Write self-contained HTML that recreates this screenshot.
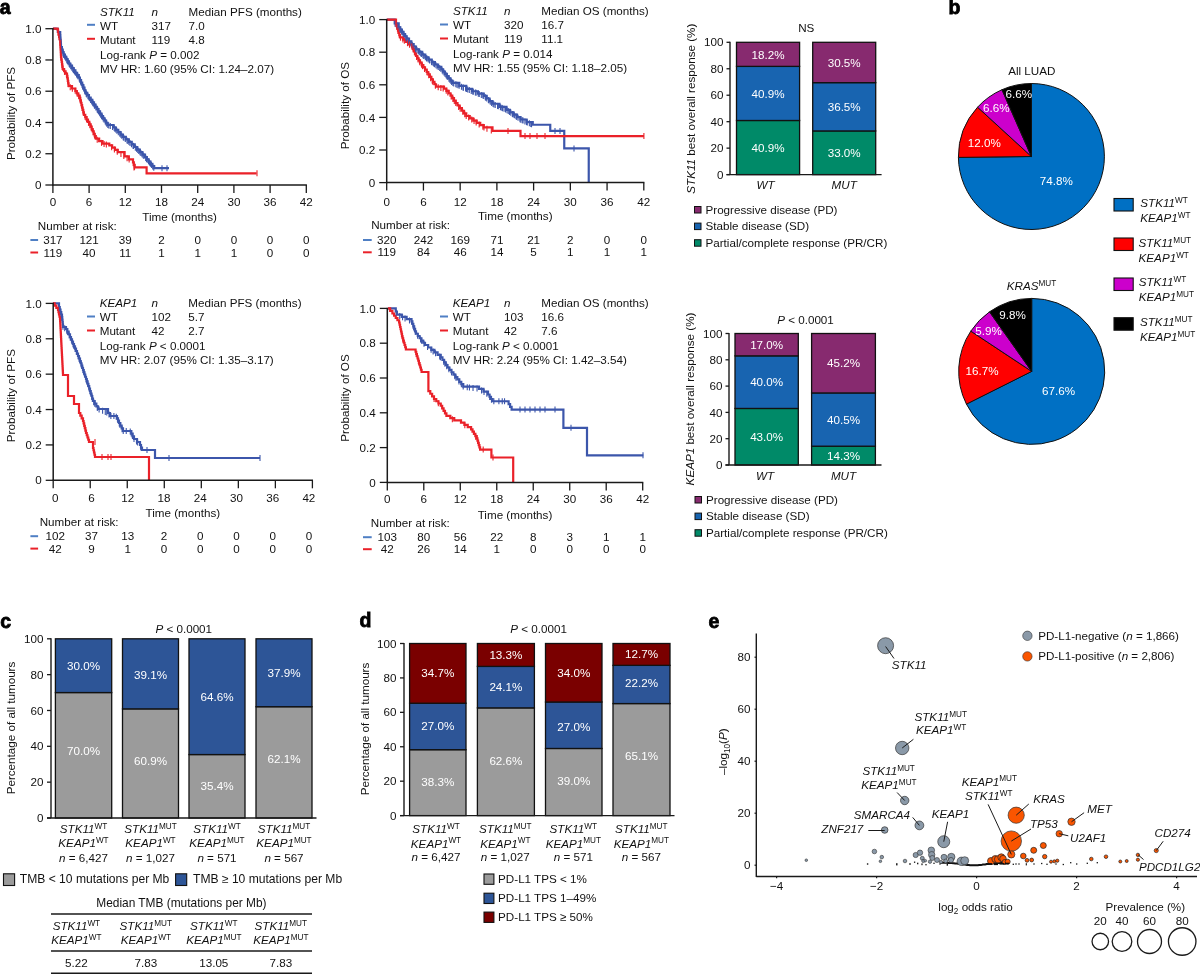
<!DOCTYPE html>
<html><head><meta charset="utf-8"><style>
html,body{margin:0;padding:0;background:#fff;}
svg{display:block;will-change:transform;font-family:"Liberation Sans",sans-serif;font-size:11.65px;fill:#111;}
</style></head><body>
<svg width="1200" height="974" viewBox="0 0 1200 974">
<rect width="1200" height="974" fill="#fff"/>
<text x="-0.30" y="13.50" font-weight="bold" font-size="19.5" fill="#000" stroke="#000" stroke-width="0.8">a</text>
<text x="948.50" y="13.60" font-weight="bold" font-size="19.5" fill="#000" stroke="#000" stroke-width="0.8">b</text>
<text x="0.20" y="627.90" font-weight="bold" font-size="19.5" fill="#000" stroke="#000" stroke-width="0.8">c</text>
<text x="359.50" y="627.30" font-weight="bold" font-size="19.5" fill="#000" stroke="#000" stroke-width="0.8">d</text>
<text x="708.50" y="627.60" font-weight="bold" font-size="19.5" fill="#000" stroke="#000" stroke-width="0.8">e</text>
<polyline points="52.90,28.60 55.50,28.60 55.50,28.80 57.85,28.80 57.85,32.00 60.20,32.00 60.20,35.20 60.36,35.20 60.36,37.56 60.52,37.56 60.52,39.92 60.68,39.92 60.68,42.28 60.84,42.28 60.84,44.64 61.00,44.64 61.00,47.00 61.87,47.00 61.87,49.57 62.73,49.57 62.73,52.13 63.60,52.13 63.60,54.70 64.94,54.70 64.94,56.90 66.28,56.90 66.28,59.10 67.62,59.10 67.62,61.30 68.96,61.30 68.96,63.50 70.30,63.50 70.30,65.70 72.00,65.70 72.00,68.06 73.70,68.06 73.70,70.42 75.40,70.42 75.40,72.78 77.10,72.78 77.10,75.14 78.80,75.14 78.80,77.50 79.93,77.50 79.93,80.05 81.07,80.05 81.07,82.60 82.20,82.60 82.20,85.15 83.33,85.15 83.33,87.70 84.47,87.70 84.47,90.25 85.60,90.25 85.60,92.80 87.28,92.80 87.28,95.18 88.96,95.18 88.96,97.56 90.64,97.56 90.64,99.94 92.32,99.94 92.32,102.32 94.00,102.32 94.00,104.70 95.51,104.70 95.51,106.96 97.02,106.96 97.02,109.21 98.53,109.21 98.53,111.47 100.04,111.47 100.04,113.72 101.56,113.72 101.56,115.98 103.07,115.98 103.07,118.23 104.58,118.23 104.58,120.49 106.09,120.49 106.09,122.74 107.60,122.74 107.60,125.00 113.60,125.00 113.60,127.50 115.92,127.50 115.92,129.85 118.25,129.85 118.25,132.20 120.58,132.20 120.58,134.55 122.90,134.55 122.90,136.90 125.85,136.90 125.85,139.43 128.80,139.43 128.80,141.95 131.75,141.95 131.75,144.47 134.70,144.47 134.70,147.00 137.27,147.00 137.27,149.55 139.85,149.55 139.85,152.10 142.43,152.10 142.43,154.65 145.00,154.65 145.00,157.20 146.84,157.20 146.84,159.40 148.68,159.40 148.68,161.60 150.52,161.60 150.52,163.80 152.36,163.80 152.36,166.00 154.20,166.00 154.20,168.20 169.00,168.20" fill="none" stroke="#3c56ab" stroke-width="2.2" stroke-linejoin="miter"/>
<polyline points="52.90,28.60 57.50,28.60 57.50,29.50 58.04,29.50 58.04,32.00 58.58,32.00 58.58,34.50 59.12,34.50 59.12,37.00 59.66,37.00 59.66,39.50 60.20,39.50 60.20,42.00 60.33,42.00 60.33,44.53 60.47,44.53 60.47,47.07 60.60,47.07 60.60,49.60 60.73,49.60 60.73,52.13 60.87,52.13 60.87,54.67 61.00,54.67 61.00,57.20 61.34,57.20 61.34,59.56 61.68,59.56 61.68,61.92 62.02,61.92 62.02,64.28 62.36,64.28 62.36,66.64 62.70,66.64 62.70,69.00 64.13,69.00 64.13,71.27 65.57,71.27 65.57,73.53 67.00,73.53 67.00,75.80 67.40,75.80 67.40,78.35 67.80,78.35 67.80,80.90 68.20,80.90 68.20,83.45 68.60,83.45 68.60,86.00 72.00,86.00 72.00,88.50 75.40,88.50 75.40,91.00 76.83,91.00 76.83,93.30 78.27,93.30 78.27,95.60 79.70,95.60 79.70,97.90 80.30,97.90 80.30,100.31 80.90,100.31 80.90,102.73 81.50,102.73 81.50,105.14 82.10,105.14 82.10,107.56 82.70,107.56 82.70,109.97 83.30,109.97 83.30,112.39 83.90,112.39 83.90,114.80 85.26,114.80 85.26,117.18 86.62,117.18 86.62,119.56 87.98,119.56 87.98,121.94 89.34,121.94 89.34,124.32 90.70,124.32 90.70,126.70 91.72,126.70 91.72,129.08 92.74,129.08 92.74,131.46 93.76,131.46 93.76,133.84 94.78,133.84 94.78,136.22 95.80,136.22 95.80,138.60 99.15,138.60 99.15,141.10 102.50,141.10 102.50,143.60 109.30,143.60 109.30,145.30 112.13,145.30 112.13,147.57 114.97,147.57 114.97,149.83 117.80,149.83 117.80,152.10 124.60,152.10 124.60,156.40 128.80,156.40 128.80,159.35 133.00,159.35 133.00,162.30 133.85,162.30 133.85,164.85 134.70,164.85 134.70,167.40 146.60,167.40 146.60,173.30 256.60,173.30" fill="none" stroke="#ea2129" stroke-width="2.2" stroke-linejoin="miter"/>
<line x1="59.18" y1="30.81" x2="59.18" y2="36.81" stroke="#3c56ab" stroke-width="1.1"/>
<line x1="60.21" y1="32.35" x2="60.21" y2="38.35" stroke="#3c56ab" stroke-width="1.1"/>
<line x1="60.33" y1="34.14" x2="60.33" y2="40.14" stroke="#3c56ab" stroke-width="1.1"/>
<line x1="60.38" y1="34.86" x2="60.38" y2="40.86" stroke="#3c56ab" stroke-width="1.1"/>
<line x1="60.48" y1="36.38" x2="60.48" y2="42.38" stroke="#3c56ab" stroke-width="1.1"/>
<line x1="60.66" y1="39.04" x2="60.66" y2="45.04" stroke="#3c56ab" stroke-width="1.1"/>
<line x1="60.74" y1="40.13" x2="60.74" y2="46.13" stroke="#3c56ab" stroke-width="1.1"/>
<line x1="60.88" y1="42.17" x2="60.88" y2="48.17" stroke="#3c56ab" stroke-width="1.1"/>
<line x1="60.92" y1="42.80" x2="60.92" y2="48.80" stroke="#3c56ab" stroke-width="1.1"/>
<line x1="61.32" y1="44.93" x2="61.32" y2="50.93" stroke="#3c56ab" stroke-width="1.1"/>
<line x1="61.95" y1="46.80" x2="61.95" y2="52.80" stroke="#3c56ab" stroke-width="1.1"/>
<line x1="62.26" y1="47.73" x2="62.26" y2="53.73" stroke="#3c56ab" stroke-width="1.1"/>
<line x1="63.07" y1="50.14" x2="63.07" y2="56.14" stroke="#3c56ab" stroke-width="1.1"/>
<line x1="63.57" y1="51.62" x2="63.57" y2="57.62" stroke="#3c56ab" stroke-width="1.1"/>
<line x1="63.81" y1="52.04" x2="63.81" y2="58.04" stroke="#3c56ab" stroke-width="1.1"/>
<line x1="64.65" y1="53.42" x2="64.65" y2="59.42" stroke="#3c56ab" stroke-width="1.1"/>
<line x1="65.83" y1="55.37" x2="65.83" y2="61.37" stroke="#3c56ab" stroke-width="1.1"/>
<line x1="66.94" y1="57.19" x2="66.94" y2="63.19" stroke="#3c56ab" stroke-width="1.1"/>
<line x1="67.41" y1="57.95" x2="67.41" y2="63.95" stroke="#3c56ab" stroke-width="1.1"/>
<line x1="68.14" y1="59.15" x2="68.14" y2="65.15" stroke="#3c56ab" stroke-width="1.1"/>
<line x1="69.12" y1="60.76" x2="69.12" y2="66.76" stroke="#3c56ab" stroke-width="1.1"/>
<line x1="69.69" y1="61.70" x2="69.69" y2="67.70" stroke="#3c56ab" stroke-width="1.1"/>
<line x1="70.71" y1="63.27" x2="70.71" y2="69.27" stroke="#3c56ab" stroke-width="1.1"/>
<line x1="71.82" y1="64.80" x2="71.82" y2="70.80" stroke="#3c56ab" stroke-width="1.1"/>
<line x1="72.80" y1="66.18" x2="72.80" y2="72.18" stroke="#3c56ab" stroke-width="1.1"/>
<line x1="73.55" y1="67.21" x2="73.55" y2="73.21" stroke="#3c56ab" stroke-width="1.1"/>
<line x1="74.49" y1="68.52" x2="74.49" y2="74.52" stroke="#3c56ab" stroke-width="1.1"/>
<line x1="75.43" y1="69.82" x2="75.43" y2="75.82" stroke="#3c56ab" stroke-width="1.1"/>
<line x1="76.55" y1="71.38" x2="76.55" y2="77.38" stroke="#3c56ab" stroke-width="1.1"/>
<line x1="77.37" y1="72.52" x2="77.37" y2="78.52" stroke="#3c56ab" stroke-width="1.1"/>
<line x1="78.11" y1="73.55" x2="78.11" y2="79.55" stroke="#3c56ab" stroke-width="1.1"/>
<line x1="79.41" y1="75.87" x2="79.41" y2="81.87" stroke="#3c56ab" stroke-width="1.1"/>
<line x1="79.92" y1="77.01" x2="79.92" y2="83.01" stroke="#3c56ab" stroke-width="1.1"/>
<line x1="80.62" y1="78.59" x2="80.62" y2="84.59" stroke="#3c56ab" stroke-width="1.1"/>
<line x1="81.03" y1="79.53" x2="81.03" y2="85.53" stroke="#3c56ab" stroke-width="1.1"/>
<line x1="82.11" y1="81.96" x2="82.11" y2="87.96" stroke="#3c56ab" stroke-width="1.1"/>
<line x1="82.70" y1="83.28" x2="82.70" y2="89.28" stroke="#3c56ab" stroke-width="1.1"/>
<line x1="82.97" y1="83.88" x2="82.97" y2="89.88" stroke="#3c56ab" stroke-width="1.1"/>
<line x1="83.74" y1="85.61" x2="83.74" y2="91.61" stroke="#3c56ab" stroke-width="1.1"/>
<line x1="84.60" y1="87.54" x2="84.60" y2="93.54" stroke="#3c56ab" stroke-width="1.1"/>
<line x1="85.25" y1="89.01" x2="85.25" y2="95.01" stroke="#3c56ab" stroke-width="1.1"/>
<line x1="86.20" y1="90.65" x2="86.20" y2="96.65" stroke="#3c56ab" stroke-width="1.1"/>
<line x1="86.75" y1="91.43" x2="86.75" y2="97.43" stroke="#3c56ab" stroke-width="1.1"/>
<line x1="87.98" y1="93.18" x2="87.98" y2="99.18" stroke="#3c56ab" stroke-width="1.1"/>
<line x1="88.80" y1="94.33" x2="88.80" y2="100.33" stroke="#3c56ab" stroke-width="1.1"/>
<line x1="89.46" y1="95.26" x2="89.46" y2="101.26" stroke="#3c56ab" stroke-width="1.1"/>
<line x1="90.60" y1="96.88" x2="90.60" y2="102.88" stroke="#3c56ab" stroke-width="1.1"/>
<line x1="91.75" y1="98.51" x2="91.75" y2="104.51" stroke="#3c56ab" stroke-width="1.1"/>
<line x1="92.66" y1="99.80" x2="92.66" y2="105.80" stroke="#3c56ab" stroke-width="1.1"/>
<line x1="93.33" y1="100.76" x2="93.33" y2="106.76" stroke="#3c56ab" stroke-width="1.1"/>
<line x1="94.32" y1="102.17" x2="94.32" y2="108.17" stroke="#3c56ab" stroke-width="1.1"/>
<line x1="94.82" y1="102.92" x2="94.82" y2="108.92" stroke="#3c56ab" stroke-width="1.1"/>
<line x1="95.87" y1="104.49" x2="95.87" y2="110.49" stroke="#3c56ab" stroke-width="1.1"/>
<line x1="97.17" y1="106.42" x2="97.17" y2="112.42" stroke="#3c56ab" stroke-width="1.1"/>
<line x1="97.79" y1="107.36" x2="97.79" y2="113.36" stroke="#3c56ab" stroke-width="1.1"/>
<line x1="98.51" y1="108.44" x2="98.51" y2="114.44" stroke="#3c56ab" stroke-width="1.1"/>
<line x1="99.68" y1="110.18" x2="99.68" y2="116.18" stroke="#3c56ab" stroke-width="1.1"/>
<line x1="100.69" y1="111.69" x2="100.69" y2="117.69" stroke="#3c56ab" stroke-width="1.1"/>
<line x1="101.57" y1="113.01" x2="101.57" y2="119.01" stroke="#3c56ab" stroke-width="1.1"/>
<line x1="102.26" y1="114.03" x2="102.26" y2="120.03" stroke="#3c56ab" stroke-width="1.1"/>
<line x1="103.20" y1="115.44" x2="103.20" y2="121.44" stroke="#3c56ab" stroke-width="1.1"/>
<line x1="104.15" y1="116.85" x2="104.15" y2="122.85" stroke="#3c56ab" stroke-width="1.1"/>
<line x1="105.25" y1="118.49" x2="105.25" y2="124.49" stroke="#3c56ab" stroke-width="1.1"/>
<line x1="105.96" y1="119.55" x2="105.96" y2="125.55" stroke="#3c56ab" stroke-width="1.1"/>
<line x1="106.77" y1="120.76" x2="106.77" y2="126.76" stroke="#3c56ab" stroke-width="1.1"/>
<line x1="107.83" y1="122.09" x2="107.83" y2="128.09" stroke="#3c56ab" stroke-width="1.1"/>
<line x1="108.77" y1="122.49" x2="108.77" y2="128.49" stroke="#3c56ab" stroke-width="1.1"/>
<line x1="110.28" y1="123.12" x2="110.28" y2="129.12" stroke="#3c56ab" stroke-width="1.1"/>
<line x1="112.56" y1="124.07" x2="112.56" y2="130.07" stroke="#3c56ab" stroke-width="1.1"/>
<line x1="114.20" y1="125.10" x2="114.20" y2="131.10" stroke="#3c56ab" stroke-width="1.1"/>
<line x1="114.98" y1="125.89" x2="114.98" y2="131.89" stroke="#3c56ab" stroke-width="1.1"/>
<line x1="115.93" y1="126.86" x2="115.93" y2="132.86" stroke="#3c56ab" stroke-width="1.1"/>
<line x1="116.87" y1="127.80" x2="116.87" y2="133.80" stroke="#3c56ab" stroke-width="1.1"/>
<line x1="118.31" y1="129.26" x2="118.31" y2="135.26" stroke="#3c56ab" stroke-width="1.1"/>
<line x1="119.88" y1="130.85" x2="119.88" y2="136.85" stroke="#3c56ab" stroke-width="1.1"/>
<line x1="120.82" y1="131.80" x2="120.82" y2="137.80" stroke="#3c56ab" stroke-width="1.1"/>
<line x1="121.75" y1="132.74" x2="121.75" y2="138.74" stroke="#3c56ab" stroke-width="1.1"/>
<line x1="123.20" y1="134.16" x2="123.20" y2="140.16" stroke="#3c56ab" stroke-width="1.1"/>
<line x1="123.81" y1="134.68" x2="123.81" y2="140.68" stroke="#3c56ab" stroke-width="1.1"/>
<line x1="125.31" y1="135.97" x2="125.31" y2="141.97" stroke="#3c56ab" stroke-width="1.1"/>
<line x1="126.97" y1="137.39" x2="126.97" y2="143.39" stroke="#3c56ab" stroke-width="1.1"/>
<line x1="127.83" y1="138.12" x2="127.83" y2="144.12" stroke="#3c56ab" stroke-width="1.1"/>
<line x1="128.94" y1="139.07" x2="128.94" y2="145.07" stroke="#3c56ab" stroke-width="1.1"/>
<line x1="129.99" y1="139.96" x2="129.99" y2="145.96" stroke="#3c56ab" stroke-width="1.1"/>
<line x1="131.49" y1="141.25" x2="131.49" y2="147.25" stroke="#3c56ab" stroke-width="1.1"/>
<line x1="133.12" y1="142.64" x2="133.12" y2="148.64" stroke="#3c56ab" stroke-width="1.1"/>
<line x1="133.41" y1="142.90" x2="133.41" y2="148.90" stroke="#3c56ab" stroke-width="1.1"/>
<line x1="135.36" y1="144.65" x2="135.36" y2="150.65" stroke="#3c56ab" stroke-width="1.1"/>
<line x1="136.54" y1="145.82" x2="136.54" y2="151.82" stroke="#3c56ab" stroke-width="1.1"/>
<line x1="137.75" y1="147.02" x2="137.75" y2="153.02" stroke="#3c56ab" stroke-width="1.1"/>
<line x1="138.76" y1="148.02" x2="138.76" y2="154.02" stroke="#3c56ab" stroke-width="1.1"/>
<line x1="139.97" y1="149.22" x2="139.97" y2="155.22" stroke="#3c56ab" stroke-width="1.1"/>
<line x1="140.85" y1="150.09" x2="140.85" y2="156.09" stroke="#3c56ab" stroke-width="1.1"/>
<line x1="142.04" y1="151.27" x2="142.04" y2="157.27" stroke="#3c56ab" stroke-width="1.1"/>
<line x1="143.06" y1="152.28" x2="143.06" y2="158.28" stroke="#3c56ab" stroke-width="1.1"/>
<line x1="143.87" y1="153.08" x2="143.87" y2="159.08" stroke="#3c56ab" stroke-width="1.1"/>
<line x1="145.69" y1="155.03" x2="145.69" y2="161.03" stroke="#3c56ab" stroke-width="1.1"/>
<line x1="146.48" y1="155.97" x2="146.48" y2="161.97" stroke="#3c56ab" stroke-width="1.1"/>
<line x1="147.21" y1="156.84" x2="147.21" y2="162.84" stroke="#3c56ab" stroke-width="1.1"/>
<line x1="148.50" y1="158.39" x2="148.50" y2="164.39" stroke="#3c56ab" stroke-width="1.1"/>
<line x1="149.52" y1="159.61" x2="149.52" y2="165.61" stroke="#3c56ab" stroke-width="1.1"/>
<line x1="150.45" y1="160.72" x2="150.45" y2="166.72" stroke="#3c56ab" stroke-width="1.1"/>
<line x1="151.48" y1="161.95" x2="151.48" y2="167.95" stroke="#3c56ab" stroke-width="1.1"/>
<line x1="152.68" y1="163.38" x2="152.68" y2="169.38" stroke="#3c56ab" stroke-width="1.1"/>
<line x1="153.78" y1="164.70" x2="153.78" y2="170.70" stroke="#3c56ab" stroke-width="1.1"/>
<line x1="162.00" y1="165.20" x2="162.00" y2="171.20" stroke="#3c56ab" stroke-width="1.1"/>
<line x1="167.00" y1="165.20" x2="167.00" y2="171.20" stroke="#3c56ab" stroke-width="1.1"/>
<line x1="58.26" y1="30.01" x2="58.26" y2="36.01" stroke="#ea2129" stroke-width="1.1"/>
<line x1="59.09" y1="33.86" x2="59.09" y2="39.86" stroke="#ea2129" stroke-width="1.1"/>
<line x1="60.25" y1="39.92" x2="60.25" y2="45.92" stroke="#ea2129" stroke-width="1.1"/>
<line x1="60.43" y1="43.46" x2="60.43" y2="49.46" stroke="#ea2129" stroke-width="1.1"/>
<line x1="60.63" y1="47.11" x2="60.63" y2="53.11" stroke="#ea2129" stroke-width="1.1"/>
<line x1="60.77" y1="49.85" x2="60.77" y2="55.85" stroke="#ea2129" stroke-width="1.1"/>
<line x1="61.06" y1="54.61" x2="61.06" y2="60.61" stroke="#ea2129" stroke-width="1.1"/>
<line x1="61.61" y1="58.43" x2="61.61" y2="64.43" stroke="#ea2129" stroke-width="1.1"/>
<line x1="62.15" y1="62.17" x2="62.15" y2="68.17" stroke="#ea2129" stroke-width="1.1"/>
<line x1="62.51" y1="64.70" x2="62.51" y2="70.70" stroke="#ea2129" stroke-width="1.1"/>
<line x1="64.51" y1="68.86" x2="64.51" y2="74.86" stroke="#ea2129" stroke-width="1.1"/>
<line x1="66.51" y1="72.02" x2="66.51" y2="78.02" stroke="#ea2129" stroke-width="1.1"/>
<line x1="67.61" y1="76.70" x2="67.61" y2="82.70" stroke="#ea2129" stroke-width="1.1"/>
<line x1="68.34" y1="81.34" x2="68.34" y2="87.34" stroke="#ea2129" stroke-width="1.1"/>
<line x1="70.24" y1="84.21" x2="70.24" y2="90.21" stroke="#ea2129" stroke-width="1.1"/>
<line x1="72.34" y1="85.75" x2="72.34" y2="91.75" stroke="#ea2129" stroke-width="1.1"/>
<line x1="75.20" y1="87.86" x2="75.20" y2="93.86" stroke="#ea2129" stroke-width="1.1"/>
<line x1="77.02" y1="90.60" x2="77.02" y2="96.60" stroke="#ea2129" stroke-width="1.1"/>
<line x1="78.68" y1="93.27" x2="78.68" y2="99.27" stroke="#ea2129" stroke-width="1.1"/>
<line x1="80.16" y1="96.75" x2="80.16" y2="102.75" stroke="#ea2129" stroke-width="1.1"/>
<line x1="81.42" y1="101.81" x2="81.42" y2="107.81" stroke="#ea2129" stroke-width="1.1"/>
<line x1="82.24" y1="105.11" x2="82.24" y2="111.11" stroke="#ea2129" stroke-width="1.1"/>
<line x1="83.21" y1="109.04" x2="83.21" y2="115.04" stroke="#ea2129" stroke-width="1.1"/>
<line x1="85.19" y1="114.05" x2="85.19" y2="120.05" stroke="#ea2129" stroke-width="1.1"/>
<line x1="86.54" y1="116.42" x2="86.54" y2="122.42" stroke="#ea2129" stroke-width="1.1"/>
<line x1="88.51" y1="119.86" x2="88.51" y2="125.86" stroke="#ea2129" stroke-width="1.1"/>
<line x1="89.92" y1="122.34" x2="89.92" y2="128.34" stroke="#ea2129" stroke-width="1.1"/>
<line x1="91.34" y1="125.20" x2="91.34" y2="131.20" stroke="#ea2129" stroke-width="1.1"/>
<line x1="93.23" y1="129.60" x2="93.23" y2="135.60" stroke="#ea2129" stroke-width="1.1"/>
<line x1="94.52" y1="132.61" x2="94.52" y2="138.61" stroke="#ea2129" stroke-width="1.1"/>
<line x1="97.21" y1="136.65" x2="97.21" y2="142.65" stroke="#ea2129" stroke-width="1.1"/>
<line x1="101.51" y1="139.86" x2="101.51" y2="145.86" stroke="#ea2129" stroke-width="1.1"/>
<line x1="104.07" y1="140.99" x2="104.07" y2="146.99" stroke="#ea2129" stroke-width="1.1"/>
<line x1="106.34" y1="141.56" x2="106.34" y2="147.56" stroke="#ea2129" stroke-width="1.1"/>
<line x1="111.64" y1="144.17" x2="111.64" y2="150.17" stroke="#ea2129" stroke-width="1.1"/>
<line x1="114.42" y1="146.40" x2="114.42" y2="152.40" stroke="#ea2129" stroke-width="1.1"/>
<line x1="117.28" y1="148.69" x2="117.28" y2="154.69" stroke="#ea2129" stroke-width="1.1"/>
<line x1="120.95" y1="151.09" x2="120.95" y2="157.09" stroke="#ea2129" stroke-width="1.1"/>
<line x1="123.84" y1="152.92" x2="123.84" y2="158.92" stroke="#ea2129" stroke-width="1.1"/>
<line x1="127.08" y1="155.14" x2="127.08" y2="161.14" stroke="#ea2129" stroke-width="1.1"/>
<line x1="129.14" y1="156.59" x2="129.14" y2="162.59" stroke="#ea2129" stroke-width="1.1"/>
<line x1="133.34" y1="160.32" x2="133.34" y2="166.32" stroke="#ea2129" stroke-width="1.1"/>
<line x1="134.54" y1="163.92" x2="134.54" y2="169.92" stroke="#ea2129" stroke-width="1.1"/>
<line x1="257.00" y1="170.30" x2="257.00" y2="176.30" stroke="#ea2129" stroke-width="1.1"/>
<line x1="134.00" y1="164.40" x2="134.00" y2="170.40" stroke="#ea2129" stroke-width="1.1"/>
<line x1="52.90" y1="28.10" x2="52.90" y2="185.60" stroke="#1a1a1a" stroke-width="1.5"/>
<line x1="52.30" y1="185.00" x2="306.90" y2="185.00" stroke="#1a1a1a" stroke-width="1.5"/>
<line x1="45.40" y1="185.00" x2="52.90" y2="185.00" stroke="#1a1a1a" stroke-width="1.3"/>
<text x="41.40" y="189.10" text-anchor="end">0</text>
<line x1="45.40" y1="153.74" x2="52.90" y2="153.74" stroke="#1a1a1a" stroke-width="1.3"/>
<text x="41.40" y="157.84" text-anchor="end">0.2</text>
<line x1="45.40" y1="122.48" x2="52.90" y2="122.48" stroke="#1a1a1a" stroke-width="1.3"/>
<text x="41.40" y="126.58" text-anchor="end">0.4</text>
<line x1="45.40" y1="91.22" x2="52.90" y2="91.22" stroke="#1a1a1a" stroke-width="1.3"/>
<text x="41.40" y="95.32" text-anchor="end">0.6</text>
<line x1="45.40" y1="59.96" x2="52.90" y2="59.96" stroke="#1a1a1a" stroke-width="1.3"/>
<text x="41.40" y="64.06" text-anchor="end">0.8</text>
<line x1="45.40" y1="28.70" x2="52.90" y2="28.70" stroke="#1a1a1a" stroke-width="1.3"/>
<text x="41.40" y="32.80" text-anchor="end">1.0</text>
<line x1="52.90" y1="185.00" x2="52.90" y2="193.00" stroke="#1a1a1a" stroke-width="1.3"/>
<text x="52.90" y="205.50" text-anchor="middle">0</text>
<line x1="89.10" y1="185.00" x2="89.10" y2="193.00" stroke="#1a1a1a" stroke-width="1.3"/>
<text x="89.10" y="205.50" text-anchor="middle">6</text>
<line x1="125.30" y1="185.00" x2="125.30" y2="193.00" stroke="#1a1a1a" stroke-width="1.3"/>
<text x="125.30" y="205.50" text-anchor="middle">12</text>
<line x1="161.50" y1="185.00" x2="161.50" y2="193.00" stroke="#1a1a1a" stroke-width="1.3"/>
<text x="161.50" y="205.50" text-anchor="middle">18</text>
<line x1="197.70" y1="185.00" x2="197.70" y2="193.00" stroke="#1a1a1a" stroke-width="1.3"/>
<text x="197.70" y="205.50" text-anchor="middle">24</text>
<line x1="233.90" y1="185.00" x2="233.90" y2="193.00" stroke="#1a1a1a" stroke-width="1.3"/>
<text x="233.90" y="205.50" text-anchor="middle">30</text>
<line x1="270.10" y1="185.00" x2="270.10" y2="193.00" stroke="#1a1a1a" stroke-width="1.3"/>
<text x="270.10" y="205.50" text-anchor="middle">36</text>
<line x1="306.30" y1="185.00" x2="306.30" y2="193.00" stroke="#1a1a1a" stroke-width="1.3"/>
<text x="306.30" y="205.50" text-anchor="middle">42</text>
<text x="179.60" y="220.50" text-anchor="middle">Time (months)</text>
<text x="37.80" y="229.70">Number at risk:</text>
<text x="52.90" y="244.00" text-anchor="middle">317</text>
<text x="52.90" y="256.50" text-anchor="middle">119</text>
<text x="89.10" y="244.00" text-anchor="middle">121</text>
<text x="89.10" y="256.50" text-anchor="middle">40</text>
<text x="125.30" y="244.00" text-anchor="middle">39</text>
<text x="125.30" y="256.50" text-anchor="middle">11</text>
<text x="161.50" y="244.00" text-anchor="middle">2</text>
<text x="161.50" y="256.50" text-anchor="middle">1</text>
<text x="197.70" y="244.00" text-anchor="middle">0</text>
<text x="197.70" y="256.50" text-anchor="middle">1</text>
<text x="233.90" y="244.00" text-anchor="middle">0</text>
<text x="233.90" y="256.50" text-anchor="middle">1</text>
<text x="270.10" y="244.00" text-anchor="middle">0</text>
<text x="270.10" y="256.50" text-anchor="middle">0</text>
<text x="306.30" y="244.00" text-anchor="middle">0</text>
<text x="306.30" y="256.50" text-anchor="middle">0</text>
<line x1="30.40" y1="240.00" x2="38.10" y2="240.00" stroke="#4f7fc4" stroke-width="2"/>
<line x1="30.40" y1="252.50" x2="38.10" y2="252.50" stroke="#ea2129" stroke-width="2"/>
<text transform="translate(14.50,113.50) rotate(-90)" text-anchor="middle">Probability of PFS</text>
<text x="100.00" y="15.60" font-style="italic">STK11</text>
<text x="151.60" y="15.60" font-style="italic">n</text>
<text x="188.60" y="15.60">Median PFS (months)</text>
<text x="100.00" y="29.60">WT</text>
<text x="151.60" y="29.60">317</text>
<text x="188.60" y="29.60">7.0</text>
<text x="100.00" y="43.60">Mutant</text>
<text x="151.60" y="43.60">119</text>
<text x="188.60" y="43.60">4.8</text>
<line x1="87.00" y1="24.80" x2="95.00" y2="24.80" stroke="#4f7fc4" stroke-width="2"/>
<line x1="87.00" y1="38.80" x2="95.00" y2="38.80" stroke="#ea2129" stroke-width="2"/>
<text x="100.00" y="58.60">Log-rank <tspan font-style="italic">P</tspan> = 0.002</text>
<text x="100.00" y="72.60">MV HR: 1.60 (95% CI: 1.24–2.07)</text>
<polyline points="386.70,19.60 394.70,19.60 394.70,23.30 398.70,23.30 398.70,27.30 400.30,27.30 400.30,29.58 401.90,29.58 401.90,31.86 403.50,31.86 403.50,34.14 405.10,34.14 405.10,36.42 406.70,36.42 406.70,38.70 409.02,38.70 409.02,41.35 411.35,41.35 411.35,44.00 413.68,44.00 413.68,46.65 416.00,46.65 416.00,49.30 419.10,49.30 419.10,51.97 422.20,51.97 422.20,54.63 425.30,54.63 425.30,57.30 428.50,57.30 428.50,59.70 431.70,59.70 431.70,62.10 434.90,62.10 434.90,64.50 438.10,64.50 438.10,66.90 441.30,66.90 441.30,69.30 443.13,69.30 443.13,71.55 444.97,71.55 444.97,73.80 446.80,73.80 446.80,76.05 448.63,76.05 448.63,78.30 450.47,78.30 450.47,80.55 452.30,80.55 452.30,82.80 459.30,82.80 459.30,85.85 466.30,85.85 466.30,88.90 472.12,88.90 472.12,91.23 477.93,91.23 477.93,93.57 483.75,93.57 483.75,95.90 486.67,95.90 486.67,98.52 489.58,98.52 489.58,101.13 492.50,101.13 492.50,103.75 499.50,103.75 499.50,106.83 506.50,106.83 506.50,109.90 510.00,109.90 510.00,112.30 513.50,112.30 513.50,114.70 517.00,114.70 517.00,117.10 520.50,117.10 520.50,119.50 526.62,119.50 526.62,122.12 532.75,122.12 532.75,124.75 550.25,124.75 550.25,130.90 564.25,130.90 564.25,148.40 588.75,148.40 588.75,182.30" fill="none" stroke="#3c56ab" stroke-width="2.2" stroke-linejoin="miter"/>
<polyline points="386.70,19.60 396.00,19.60 396.00,24.00 396.67,24.00 396.67,26.22 397.33,26.22 397.33,28.43 398.00,28.43 398.00,30.65 398.67,30.65 398.67,32.87 399.33,32.87 399.33,35.08 400.00,35.08 400.00,37.30 403.00,37.30 403.00,39.65 406.00,39.65 406.00,42.00 409.00,42.00 409.00,44.35 412.00,44.35 412.00,46.70 413.00,46.70 413.00,49.03 414.00,49.03 414.00,51.35 415.00,51.35 415.00,53.67 416.00,53.67 416.00,56.00 417.33,56.00 417.33,58.23 418.67,58.23 418.67,60.47 420.00,60.47 420.00,62.70 421.68,62.70 421.68,65.03 423.35,65.03 423.35,67.35 425.02,67.35 425.02,69.67 426.70,69.67 426.70,72.00 428.25,72.00 428.25,74.45 429.80,74.45 429.80,76.90 431.35,76.90 431.35,79.35 432.90,79.35 432.90,81.80 434.45,81.80 434.45,84.25 436.00,84.25 436.00,86.70 444.00,86.70 444.00,88.70 446.38,88.70 446.38,90.97 448.75,90.97 448.75,93.25 450.50,93.25 450.50,95.70 452.25,95.70 452.25,98.15 454.00,98.15 454.00,100.60 455.75,100.60 455.75,103.05 457.50,103.05 457.50,105.50 459.69,105.50 459.69,108.12 461.88,108.12 461.88,110.75 464.06,110.75 464.06,113.38 466.25,113.38 466.25,116.00 469.75,116.00 469.75,118.28 473.25,118.28 473.25,120.56 476.75,120.56 476.75,122.84 480.25,122.84 480.25,125.12 483.75,125.12 483.75,127.40 492.50,127.40 492.50,130.90 520.50,130.90 520.50,136.10 643.90,136.10" fill="none" stroke="#ea2129" stroke-width="2.2" stroke-linejoin="miter"/>
<line x1="395.08" y1="20.68" x2="395.08" y2="26.68" stroke="#3c56ab" stroke-width="1.1"/>
<line x1="396.87" y1="22.47" x2="396.87" y2="28.47" stroke="#3c56ab" stroke-width="1.1"/>
<line x1="397.46" y1="23.06" x2="397.46" y2="29.06" stroke="#3c56ab" stroke-width="1.1"/>
<line x1="398.52" y1="24.12" x2="398.52" y2="30.12" stroke="#3c56ab" stroke-width="1.1"/>
<line x1="399.96" y1="26.10" x2="399.96" y2="32.10" stroke="#3c56ab" stroke-width="1.1"/>
<line x1="400.47" y1="26.83" x2="400.47" y2="32.83" stroke="#3c56ab" stroke-width="1.1"/>
<line x1="401.61" y1="28.45" x2="401.61" y2="34.45" stroke="#3c56ab" stroke-width="1.1"/>
<line x1="402.24" y1="29.34" x2="402.24" y2="35.34" stroke="#3c56ab" stroke-width="1.1"/>
<line x1="403.23" y1="30.75" x2="403.23" y2="36.75" stroke="#3c56ab" stroke-width="1.1"/>
<line x1="403.76" y1="31.52" x2="403.76" y2="37.52" stroke="#3c56ab" stroke-width="1.1"/>
<line x1="404.98" y1="33.25" x2="404.98" y2="39.25" stroke="#3c56ab" stroke-width="1.1"/>
<line x1="406.03" y1="34.74" x2="406.03" y2="40.74" stroke="#3c56ab" stroke-width="1.1"/>
<line x1="406.66" y1="35.65" x2="406.66" y2="41.65" stroke="#3c56ab" stroke-width="1.1"/>
<line x1="407.84" y1="37.00" x2="407.84" y2="43.00" stroke="#3c56ab" stroke-width="1.1"/>
<line x1="408.80" y1="38.09" x2="408.80" y2="44.09" stroke="#3c56ab" stroke-width="1.1"/>
<line x1="409.31" y1="38.68" x2="409.31" y2="44.68" stroke="#3c56ab" stroke-width="1.1"/>
<line x1="410.88" y1="40.47" x2="410.88" y2="46.47" stroke="#3c56ab" stroke-width="1.1"/>
<line x1="411.76" y1="41.46" x2="411.76" y2="47.46" stroke="#3c56ab" stroke-width="1.1"/>
<line x1="412.53" y1="42.35" x2="412.53" y2="48.35" stroke="#3c56ab" stroke-width="1.1"/>
<line x1="413.32" y1="43.25" x2="413.32" y2="49.25" stroke="#3c56ab" stroke-width="1.1"/>
<line x1="415.01" y1="45.17" x2="415.01" y2="51.17" stroke="#3c56ab" stroke-width="1.1"/>
<line x1="415.70" y1="45.96" x2="415.70" y2="51.96" stroke="#3c56ab" stroke-width="1.1"/>
<line x1="417.04" y1="47.20" x2="417.04" y2="53.20" stroke="#3c56ab" stroke-width="1.1"/>
<line x1="418.35" y1="48.32" x2="418.35" y2="54.32" stroke="#3c56ab" stroke-width="1.1"/>
<line x1="419.36" y1="49.19" x2="419.36" y2="55.19" stroke="#3c56ab" stroke-width="1.1"/>
<line x1="420.71" y1="50.35" x2="420.71" y2="56.35" stroke="#3c56ab" stroke-width="1.1"/>
<line x1="421.38" y1="50.93" x2="421.38" y2="56.93" stroke="#3c56ab" stroke-width="1.1"/>
<line x1="422.92" y1="52.25" x2="422.92" y2="58.25" stroke="#3c56ab" stroke-width="1.1"/>
<line x1="423.75" y1="52.96" x2="423.75" y2="58.96" stroke="#3c56ab" stroke-width="1.1"/>
<line x1="425.37" y1="54.35" x2="425.37" y2="60.35" stroke="#3c56ab" stroke-width="1.1"/>
<line x1="426.53" y1="55.23" x2="426.53" y2="61.23" stroke="#3c56ab" stroke-width="1.1"/>
<line x1="426.99" y1="55.57" x2="426.99" y2="61.57" stroke="#3c56ab" stroke-width="1.1"/>
<line x1="428.25" y1="56.52" x2="428.25" y2="62.52" stroke="#3c56ab" stroke-width="1.1"/>
<line x1="429.56" y1="57.49" x2="429.56" y2="63.49" stroke="#3c56ab" stroke-width="1.1"/>
<line x1="431.52" y1="58.96" x2="431.52" y2="64.96" stroke="#3c56ab" stroke-width="1.1"/>
<line x1="432.22" y1="59.49" x2="432.22" y2="65.49" stroke="#3c56ab" stroke-width="1.1"/>
<line x1="433.63" y1="60.55" x2="433.63" y2="66.55" stroke="#3c56ab" stroke-width="1.1"/>
<line x1="434.54" y1="61.23" x2="434.54" y2="67.23" stroke="#3c56ab" stroke-width="1.1"/>
<line x1="435.96" y1="62.30" x2="435.96" y2="68.30" stroke="#3c56ab" stroke-width="1.1"/>
<line x1="437.07" y1="63.13" x2="437.07" y2="69.13" stroke="#3c56ab" stroke-width="1.1"/>
<line x1="438.26" y1="64.02" x2="438.26" y2="70.02" stroke="#3c56ab" stroke-width="1.1"/>
<line x1="439.71" y1="65.11" x2="439.71" y2="71.11" stroke="#3c56ab" stroke-width="1.1"/>
<line x1="440.93" y1="66.03" x2="440.93" y2="72.03" stroke="#3c56ab" stroke-width="1.1"/>
<line x1="442.22" y1="67.44" x2="442.22" y2="73.44" stroke="#3c56ab" stroke-width="1.1"/>
<line x1="443.02" y1="68.41" x2="443.02" y2="74.41" stroke="#3c56ab" stroke-width="1.1"/>
<line x1="444.18" y1="69.83" x2="444.18" y2="75.83" stroke="#3c56ab" stroke-width="1.1"/>
<line x1="445.09" y1="70.95" x2="445.09" y2="76.95" stroke="#3c56ab" stroke-width="1.1"/>
<line x1="446.16" y1="72.26" x2="446.16" y2="78.26" stroke="#3c56ab" stroke-width="1.1"/>
<line x1="446.88" y1="73.14" x2="446.88" y2="79.14" stroke="#3c56ab" stroke-width="1.1"/>
<line x1="447.45" y1="73.85" x2="447.45" y2="79.85" stroke="#3c56ab" stroke-width="1.1"/>
<line x1="448.96" y1="75.70" x2="448.96" y2="81.70" stroke="#3c56ab" stroke-width="1.1"/>
<line x1="450.00" y1="76.98" x2="450.00" y2="82.98" stroke="#3c56ab" stroke-width="1.1"/>
<line x1="450.92" y1="78.11" x2="450.92" y2="84.11" stroke="#3c56ab" stroke-width="1.1"/>
<line x1="451.63" y1="78.98" x2="451.63" y2="84.98" stroke="#3c56ab" stroke-width="1.1"/>
<line x1="452.89" y1="80.06" x2="452.89" y2="86.06" stroke="#3c56ab" stroke-width="1.1"/>
<line x1="453.73" y1="80.42" x2="453.73" y2="86.42" stroke="#3c56ab" stroke-width="1.1"/>
<line x1="455.83" y1="81.34" x2="455.83" y2="87.34" stroke="#3c56ab" stroke-width="1.1"/>
<line x1="456.94" y1="81.82" x2="456.94" y2="87.82" stroke="#3c56ab" stroke-width="1.1"/>
<line x1="458.02" y1="82.29" x2="458.02" y2="88.29" stroke="#3c56ab" stroke-width="1.1"/>
<line x1="459.18" y1="82.80" x2="459.18" y2="88.80" stroke="#3c56ab" stroke-width="1.1"/>
<line x1="461.47" y1="83.79" x2="461.47" y2="89.79" stroke="#3c56ab" stroke-width="1.1"/>
<line x1="463.02" y1="84.47" x2="463.02" y2="90.47" stroke="#3c56ab" stroke-width="1.1"/>
<line x1="463.41" y1="84.64" x2="463.41" y2="90.64" stroke="#3c56ab" stroke-width="1.1"/>
<line x1="465.61" y1="85.60" x2="465.61" y2="91.60" stroke="#3c56ab" stroke-width="1.1"/>
<line x1="466.58" y1="86.01" x2="466.58" y2="92.01" stroke="#3c56ab" stroke-width="1.1"/>
<line x1="467.71" y1="86.46" x2="467.71" y2="92.46" stroke="#3c56ab" stroke-width="1.1"/>
<line x1="469.29" y1="87.10" x2="469.29" y2="93.10" stroke="#3c56ab" stroke-width="1.1"/>
<line x1="471.25" y1="87.89" x2="471.25" y2="93.89" stroke="#3c56ab" stroke-width="1.1"/>
<line x1="472.79" y1="88.50" x2="472.79" y2="94.50" stroke="#3c56ab" stroke-width="1.1"/>
<line x1="473.27" y1="88.69" x2="473.27" y2="94.69" stroke="#3c56ab" stroke-width="1.1"/>
<line x1="475.34" y1="89.52" x2="475.34" y2="95.52" stroke="#3c56ab" stroke-width="1.1"/>
<line x1="476.11" y1="89.83" x2="476.11" y2="95.83" stroke="#3c56ab" stroke-width="1.1"/>
<line x1="478.29" y1="90.71" x2="478.29" y2="96.71" stroke="#3c56ab" stroke-width="1.1"/>
<line x1="479.27" y1="91.10" x2="479.27" y2="97.10" stroke="#3c56ab" stroke-width="1.1"/>
<line x1="481.32" y1="91.92" x2="481.32" y2="97.92" stroke="#3c56ab" stroke-width="1.1"/>
<line x1="482.85" y1="92.54" x2="482.85" y2="98.54" stroke="#3c56ab" stroke-width="1.1"/>
<line x1="483.73" y1="92.89" x2="483.73" y2="98.89" stroke="#3c56ab" stroke-width="1.1"/>
<line x1="485.32" y1="94.31" x2="485.32" y2="100.31" stroke="#3c56ab" stroke-width="1.1"/>
<line x1="485.83" y1="94.77" x2="485.83" y2="100.77" stroke="#3c56ab" stroke-width="1.1"/>
<line x1="486.76" y1="95.60" x2="486.76" y2="101.60" stroke="#3c56ab" stroke-width="1.1"/>
<line x1="488.38" y1="97.05" x2="488.38" y2="103.05" stroke="#3c56ab" stroke-width="1.1"/>
<line x1="489.00" y1="97.61" x2="489.00" y2="103.61" stroke="#3c56ab" stroke-width="1.1"/>
<line x1="490.29" y1="98.77" x2="490.29" y2="104.77" stroke="#3c56ab" stroke-width="1.1"/>
<line x1="491.62" y1="99.96" x2="491.62" y2="105.96" stroke="#3c56ab" stroke-width="1.1"/>
<line x1="493.04" y1="100.99" x2="493.04" y2="106.99" stroke="#3c56ab" stroke-width="1.1"/>
<line x1="493.94" y1="101.38" x2="493.94" y2="107.38" stroke="#3c56ab" stroke-width="1.1"/>
<line x1="495.21" y1="101.94" x2="495.21" y2="107.94" stroke="#3c56ab" stroke-width="1.1"/>
<line x1="497.53" y1="102.96" x2="497.53" y2="108.96" stroke="#3c56ab" stroke-width="1.1"/>
<line x1="498.31" y1="103.30" x2="498.31" y2="109.30" stroke="#3c56ab" stroke-width="1.1"/>
<line x1="500.44" y1="104.24" x2="500.44" y2="110.24" stroke="#3c56ab" stroke-width="1.1"/>
<line x1="501.77" y1="104.82" x2="501.77" y2="110.82" stroke="#3c56ab" stroke-width="1.1"/>
<line x1="502.59" y1="105.18" x2="502.59" y2="111.18" stroke="#3c56ab" stroke-width="1.1"/>
<line x1="504.08" y1="105.84" x2="504.08" y2="111.84" stroke="#3c56ab" stroke-width="1.1"/>
<line x1="505.55" y1="106.48" x2="505.55" y2="112.48" stroke="#3c56ab" stroke-width="1.1"/>
<line x1="507.03" y1="107.26" x2="507.03" y2="113.26" stroke="#3c56ab" stroke-width="1.1"/>
<line x1="508.24" y1="108.10" x2="508.24" y2="114.10" stroke="#3c56ab" stroke-width="1.1"/>
<line x1="509.47" y1="108.94" x2="509.47" y2="114.94" stroke="#3c56ab" stroke-width="1.1"/>
<line x1="510.79" y1="109.84" x2="510.79" y2="115.84" stroke="#3c56ab" stroke-width="1.1"/>
<line x1="512.38" y1="110.93" x2="512.38" y2="116.93" stroke="#3c56ab" stroke-width="1.1"/>
<line x1="513.20" y1="111.50" x2="513.20" y2="117.50" stroke="#3c56ab" stroke-width="1.1"/>
<line x1="514.39" y1="112.31" x2="514.39" y2="118.31" stroke="#3c56ab" stroke-width="1.1"/>
<line x1="515.94" y1="113.37" x2="515.94" y2="119.37" stroke="#3c56ab" stroke-width="1.1"/>
<line x1="516.72" y1="113.90" x2="516.72" y2="119.90" stroke="#3c56ab" stroke-width="1.1"/>
<line x1="518.04" y1="114.81" x2="518.04" y2="120.81" stroke="#3c56ab" stroke-width="1.1"/>
<line x1="519.99" y1="116.15" x2="519.99" y2="122.15" stroke="#3c56ab" stroke-width="1.1"/>
<line x1="520.82" y1="116.64" x2="520.82" y2="122.64" stroke="#3c56ab" stroke-width="1.1"/>
<line x1="522.26" y1="117.25" x2="522.26" y2="123.25" stroke="#3c56ab" stroke-width="1.1"/>
<line x1="523.06" y1="117.60" x2="523.06" y2="123.60" stroke="#3c56ab" stroke-width="1.1"/>
<line x1="524.92" y1="118.39" x2="524.92" y2="124.39" stroke="#3c56ab" stroke-width="1.1"/>
<line x1="526.51" y1="119.08" x2="526.51" y2="125.08" stroke="#3c56ab" stroke-width="1.1"/>
<line x1="527.29" y1="119.41" x2="527.29" y2="125.41" stroke="#3c56ab" stroke-width="1.1"/>
<line x1="529.36" y1="120.30" x2="529.36" y2="126.30" stroke="#3c56ab" stroke-width="1.1"/>
<line x1="530.79" y1="120.91" x2="530.79" y2="126.91" stroke="#3c56ab" stroke-width="1.1"/>
<line x1="531.55" y1="121.24" x2="531.55" y2="127.24" stroke="#3c56ab" stroke-width="1.1"/>
<line x1="555.00" y1="127.90" x2="555.00" y2="133.90" stroke="#3c56ab" stroke-width="1.1"/>
<line x1="560.00" y1="127.90" x2="560.00" y2="133.90" stroke="#3c56ab" stroke-width="1.1"/>
<line x1="574.00" y1="145.40" x2="574.00" y2="151.40" stroke="#3c56ab" stroke-width="1.1"/>
<line x1="396.01" y1="21.03" x2="396.01" y2="27.03" stroke="#ea2129" stroke-width="1.1"/>
<line x1="396.87" y1="23.88" x2="396.87" y2="29.88" stroke="#ea2129" stroke-width="1.1"/>
<line x1="398.04" y1="27.77" x2="398.04" y2="33.77" stroke="#ea2129" stroke-width="1.1"/>
<line x1="399.34" y1="32.10" x2="399.34" y2="38.10" stroke="#ea2129" stroke-width="1.1"/>
<line x1="400.47" y1="34.67" x2="400.47" y2="40.67" stroke="#ea2129" stroke-width="1.1"/>
<line x1="402.92" y1="36.59" x2="402.92" y2="42.59" stroke="#ea2129" stroke-width="1.1"/>
<line x1="404.35" y1="37.71" x2="404.35" y2="43.71" stroke="#ea2129" stroke-width="1.1"/>
<line x1="407.50" y1="40.18" x2="407.50" y2="46.18" stroke="#ea2129" stroke-width="1.1"/>
<line x1="409.50" y1="41.74" x2="409.50" y2="47.74" stroke="#ea2129" stroke-width="1.1"/>
<line x1="411.81" y1="43.55" x2="411.81" y2="49.55" stroke="#ea2129" stroke-width="1.1"/>
<line x1="413.10" y1="46.26" x2="413.10" y2="52.26" stroke="#ea2129" stroke-width="1.1"/>
<line x1="414.48" y1="49.46" x2="414.48" y2="55.46" stroke="#ea2129" stroke-width="1.1"/>
<line x1="416.60" y1="54.00" x2="416.60" y2="60.00" stroke="#ea2129" stroke-width="1.1"/>
<line x1="418.11" y1="56.54" x2="418.11" y2="62.54" stroke="#ea2129" stroke-width="1.1"/>
<line x1="419.72" y1="59.24" x2="419.72" y2="65.24" stroke="#ea2129" stroke-width="1.1"/>
<line x1="421.55" y1="61.85" x2="421.55" y2="67.85" stroke="#ea2129" stroke-width="1.1"/>
<line x1="422.51" y1="63.18" x2="422.51" y2="69.18" stroke="#ea2129" stroke-width="1.1"/>
<line x1="424.55" y1="66.02" x2="424.55" y2="72.02" stroke="#ea2129" stroke-width="1.1"/>
<line x1="426.88" y1="69.29" x2="426.88" y2="75.29" stroke="#ea2129" stroke-width="1.1"/>
<line x1="428.74" y1="72.22" x2="428.74" y2="78.22" stroke="#ea2129" stroke-width="1.1"/>
<line x1="430.62" y1="75.19" x2="430.62" y2="81.19" stroke="#ea2129" stroke-width="1.1"/>
<line x1="432.36" y1="77.95" x2="432.36" y2="83.95" stroke="#ea2129" stroke-width="1.1"/>
<line x1="432.99" y1="78.94" x2="432.99" y2="84.94" stroke="#ea2129" stroke-width="1.1"/>
<line x1="435.41" y1="82.77" x2="435.41" y2="88.77" stroke="#ea2129" stroke-width="1.1"/>
<line x1="438.20" y1="84.25" x2="438.20" y2="90.25" stroke="#ea2129" stroke-width="1.1"/>
<line x1="440.89" y1="84.92" x2="440.89" y2="90.92" stroke="#ea2129" stroke-width="1.1"/>
<line x1="443.18" y1="85.50" x2="443.18" y2="91.50" stroke="#ea2129" stroke-width="1.1"/>
<line x1="446.25" y1="87.86" x2="446.25" y2="93.86" stroke="#ea2129" stroke-width="1.1"/>
<line x1="447.85" y1="89.39" x2="447.85" y2="95.39" stroke="#ea2129" stroke-width="1.1"/>
<line x1="451.15" y1="93.61" x2="451.15" y2="99.61" stroke="#ea2129" stroke-width="1.1"/>
<line x1="452.90" y1="96.07" x2="452.90" y2="102.07" stroke="#ea2129" stroke-width="1.1"/>
<line x1="454.29" y1="98.01" x2="454.29" y2="104.01" stroke="#ea2129" stroke-width="1.1"/>
<line x1="455.78" y1="100.10" x2="455.78" y2="106.10" stroke="#ea2129" stroke-width="1.1"/>
<line x1="458.66" y1="103.89" x2="458.66" y2="109.89" stroke="#ea2129" stroke-width="1.1"/>
<line x1="460.16" y1="105.69" x2="460.16" y2="111.69" stroke="#ea2129" stroke-width="1.1"/>
<line x1="462.71" y1="108.76" x2="462.71" y2="114.76" stroke="#ea2129" stroke-width="1.1"/>
<line x1="464.71" y1="111.15" x2="464.71" y2="117.15" stroke="#ea2129" stroke-width="1.1"/>
<line x1="466.20" y1="112.94" x2="466.20" y2="118.94" stroke="#ea2129" stroke-width="1.1"/>
<line x1="468.66" y1="114.57" x2="468.66" y2="120.57" stroke="#ea2129" stroke-width="1.1"/>
<line x1="471.74" y1="116.58" x2="471.74" y2="122.58" stroke="#ea2129" stroke-width="1.1"/>
<line x1="474.06" y1="118.09" x2="474.06" y2="124.09" stroke="#ea2129" stroke-width="1.1"/>
<line x1="476.17" y1="119.46" x2="476.17" y2="125.46" stroke="#ea2129" stroke-width="1.1"/>
<line x1="479.16" y1="121.41" x2="479.16" y2="127.41" stroke="#ea2129" stroke-width="1.1"/>
<line x1="482.93" y1="123.87" x2="482.93" y2="129.87" stroke="#ea2129" stroke-width="1.1"/>
<line x1="483.98" y1="124.49" x2="483.98" y2="130.49" stroke="#ea2129" stroke-width="1.1"/>
<line x1="486.96" y1="125.69" x2="486.96" y2="131.69" stroke="#ea2129" stroke-width="1.1"/>
<line x1="491.31" y1="127.43" x2="491.31" y2="133.43" stroke="#ea2129" stroke-width="1.1"/>
<line x1="525.00" y1="133.10" x2="525.00" y2="139.10" stroke="#ea2129" stroke-width="1.1"/>
<line x1="530.00" y1="133.10" x2="530.00" y2="139.10" stroke="#ea2129" stroke-width="1.1"/>
<line x1="537.00" y1="133.10" x2="537.00" y2="139.10" stroke="#ea2129" stroke-width="1.1"/>
<line x1="545.00" y1="133.10" x2="545.00" y2="139.10" stroke="#ea2129" stroke-width="1.1"/>
<line x1="643.90" y1="133.10" x2="643.90" y2="139.10" stroke="#ea2129" stroke-width="1.1"/>
<line x1="508.00" y1="127.90" x2="508.00" y2="133.90" stroke="#ea2129" stroke-width="1.1"/>
<line x1="386.70" y1="19.00" x2="386.70" y2="183.20" stroke="#1a1a1a" stroke-width="1.5"/>
<line x1="386.10" y1="182.60" x2="644.40" y2="182.60" stroke="#1a1a1a" stroke-width="1.5"/>
<line x1="379.20" y1="182.60" x2="386.70" y2="182.60" stroke="#1a1a1a" stroke-width="1.3"/>
<text x="375.20" y="186.70" text-anchor="end">0</text>
<line x1="379.20" y1="150.00" x2="386.70" y2="150.00" stroke="#1a1a1a" stroke-width="1.3"/>
<text x="375.20" y="154.10" text-anchor="end">0.2</text>
<line x1="379.20" y1="117.40" x2="386.70" y2="117.40" stroke="#1a1a1a" stroke-width="1.3"/>
<text x="375.20" y="121.50" text-anchor="end">0.4</text>
<line x1="379.20" y1="84.80" x2="386.70" y2="84.80" stroke="#1a1a1a" stroke-width="1.3"/>
<text x="375.20" y="88.90" text-anchor="end">0.6</text>
<line x1="379.20" y1="52.20" x2="386.70" y2="52.20" stroke="#1a1a1a" stroke-width="1.3"/>
<text x="375.20" y="56.30" text-anchor="end">0.8</text>
<line x1="379.20" y1="19.60" x2="386.70" y2="19.60" stroke="#1a1a1a" stroke-width="1.3"/>
<text x="375.20" y="23.70" text-anchor="end">1.0</text>
<line x1="386.70" y1="182.60" x2="386.70" y2="190.60" stroke="#1a1a1a" stroke-width="1.3"/>
<text x="386.70" y="205.50" text-anchor="middle">0</text>
<line x1="423.43" y1="182.60" x2="423.43" y2="190.60" stroke="#1a1a1a" stroke-width="1.3"/>
<text x="423.43" y="205.50" text-anchor="middle">6</text>
<line x1="460.16" y1="182.60" x2="460.16" y2="190.60" stroke="#1a1a1a" stroke-width="1.3"/>
<text x="460.16" y="205.50" text-anchor="middle">12</text>
<line x1="496.89" y1="182.60" x2="496.89" y2="190.60" stroke="#1a1a1a" stroke-width="1.3"/>
<text x="496.89" y="205.50" text-anchor="middle">18</text>
<line x1="533.61" y1="182.60" x2="533.61" y2="190.60" stroke="#1a1a1a" stroke-width="1.3"/>
<text x="533.61" y="205.50" text-anchor="middle">24</text>
<line x1="570.34" y1="182.60" x2="570.34" y2="190.60" stroke="#1a1a1a" stroke-width="1.3"/>
<text x="570.34" y="205.50" text-anchor="middle">30</text>
<line x1="607.07" y1="182.60" x2="607.07" y2="190.60" stroke="#1a1a1a" stroke-width="1.3"/>
<text x="607.07" y="205.50" text-anchor="middle">36</text>
<line x1="643.80" y1="182.60" x2="643.80" y2="190.60" stroke="#1a1a1a" stroke-width="1.3"/>
<text x="643.80" y="205.50" text-anchor="middle">42</text>
<text x="515.25" y="220.30" text-anchor="middle">Time (months)</text>
<text x="371.20" y="229.00">Number at risk:</text>
<text x="386.70" y="244.00" text-anchor="middle">320</text>
<text x="386.70" y="256.30" text-anchor="middle">119</text>
<text x="423.43" y="244.00" text-anchor="middle">242</text>
<text x="423.43" y="256.30" text-anchor="middle">84</text>
<text x="460.16" y="244.00" text-anchor="middle">169</text>
<text x="460.16" y="256.30" text-anchor="middle">46</text>
<text x="496.89" y="244.00" text-anchor="middle">71</text>
<text x="496.89" y="256.30" text-anchor="middle">14</text>
<text x="533.61" y="244.00" text-anchor="middle">21</text>
<text x="533.61" y="256.30" text-anchor="middle">5</text>
<text x="570.34" y="244.00" text-anchor="middle">2</text>
<text x="570.34" y="256.30" text-anchor="middle">1</text>
<text x="607.07" y="244.00" text-anchor="middle">0</text>
<text x="607.07" y="256.30" text-anchor="middle">1</text>
<text x="643.80" y="244.00" text-anchor="middle">0</text>
<text x="643.80" y="256.30" text-anchor="middle">1</text>
<line x1="363.00" y1="240.00" x2="371.70" y2="240.00" stroke="#4f7fc4" stroke-width="2"/>
<line x1="363.00" y1="252.30" x2="371.70" y2="252.30" stroke="#ea2129" stroke-width="2"/>
<text transform="translate(348.50,105.70) rotate(-90)" text-anchor="middle">Probability of OS</text>
<text x="453.00" y="15.30" font-style="italic">STK11</text>
<text x="504.00" y="15.30" font-style="italic">n</text>
<text x="541.30" y="15.30">Median OS (months)</text>
<text x="453.00" y="29.30">WT</text>
<text x="504.00" y="29.30">320</text>
<text x="541.30" y="29.30">16.7</text>
<text x="453.00" y="43.30">Mutant</text>
<text x="504.00" y="43.30">119</text>
<text x="541.30" y="43.30">11.1</text>
<line x1="440.00" y1="24.50" x2="448.00" y2="24.50" stroke="#4f7fc4" stroke-width="2"/>
<line x1="440.00" y1="38.50" x2="448.00" y2="38.50" stroke="#ea2129" stroke-width="2"/>
<text x="453.00" y="58.30">Log-rank <tspan font-style="italic">P</tspan> = 0.014</text>
<text x="453.00" y="72.30">MV HR: 1.55 (95% CI: 1.18–2.05)</text>
<polyline points="53.00,303.40 59.00,303.40 59.00,307.00 59.75,307.00 59.75,309.50 60.50,309.50 60.50,312.00 61.25,312.00 61.25,314.50 62.00,314.50 62.00,317.00 62.25,317.00 62.25,319.50 62.50,319.50 62.50,322.00 62.75,322.00 62.75,324.50 63.00,324.50 63.00,327.00 66.00,327.00 66.00,329.00 67.33,329.00 67.33,331.67 68.67,331.67 68.67,334.33 70.00,334.33 70.00,337.00 71.00,337.00 71.00,339.33 72.00,339.33 72.00,341.67 73.00,341.67 73.00,344.00 74.00,344.00 74.00,346.33 75.00,346.33 75.00,348.67 76.00,348.67 76.00,351.00 77.00,351.00 77.00,353.50 78.00,353.50 78.00,356.00 79.00,356.00 79.00,358.50 80.00,358.50 80.00,361.00 80.75,361.00 80.75,363.25 81.50,363.25 81.50,365.50 82.25,365.50 82.25,367.75 83.00,367.75 83.00,370.00 83.75,370.00 83.75,372.25 84.50,372.25 84.50,374.50 85.25,374.50 85.25,376.75 86.00,376.75 86.00,379.00 86.80,379.00 86.80,381.40 87.60,381.40 87.60,383.80 88.40,383.80 88.40,386.20 89.20,386.20 89.20,388.60 90.00,388.60 90.00,391.00 90.75,391.00 90.75,393.50 91.50,393.50 91.50,396.00 92.25,396.00 92.25,398.50 93.00,398.50 93.00,401.00 94.67,401.00 94.67,403.67 96.33,403.67 96.33,406.33 98.00,406.33 98.00,409.00 108.00,409.00 108.00,413.00 110.00,413.00 110.00,416.00 116.00,416.00 117.00,416.00 117.00,418.33 118.00,418.33 118.00,420.67 119.00,420.67 119.00,423.00 120.33,423.00 120.33,425.67 121.67,425.67 121.67,428.33 123.00,428.33 123.00,431.00 130.00,431.00 131.33,431.00 131.33,433.67 132.67,433.67 132.67,436.33 134.00,436.33 134.00,439.00 137.00,439.00 137.00,442.00 140.00,442.00 140.00,445.00 141.00,445.00 141.00,447.50 142.00,447.50 142.00,450.00 155.00,450.00 155.00,458.00 260.00,458.00" fill="none" stroke="#3c56ab" stroke-width="2.2" stroke-linejoin="miter"/>
<polyline points="53.00,303.40 54.67,303.40 54.67,305.60 56.33,305.60 56.33,307.80 58.00,307.80 58.00,310.00 58.50,310.00 58.50,312.25 59.00,312.25 59.00,314.50 59.50,314.50 59.50,316.75 60.00,316.75 60.00,319.00 60.12,319.00 60.12,321.24 60.24,321.24 60.24,323.48 60.36,323.48 60.36,325.72 60.48,325.72 60.48,327.96 60.60,327.96 60.60,330.20 60.72,330.20 60.72,332.44 60.84,332.44 60.84,334.68 60.96,334.68 60.96,336.92 61.08,336.92 61.08,339.16 61.20,339.16 61.20,341.40 61.32,341.40 61.32,343.64 61.44,343.64 61.44,345.88 61.56,345.88 61.56,348.12 61.68,348.12 61.68,350.36 61.80,350.36 61.80,352.60 61.92,352.60 61.92,354.84 62.04,354.84 62.04,357.08 62.16,357.08 62.16,359.32 62.28,359.32 62.28,361.56 62.40,361.56 62.40,363.80 62.52,363.80 62.52,366.04 62.64,366.04 62.64,368.28 62.76,368.28 62.76,370.52 62.88,370.52 62.88,372.76 63.00,372.76 63.00,375.00 68.00,375.00 68.00,396.00 74.00,396.00 74.00,404.00 79.00,404.00 79.00,413.00 80.33,413.00 80.33,415.67 81.67,415.67 81.67,418.33 83.00,418.33 83.00,421.00 83.60,421.00 83.60,423.40 84.20,423.40 84.20,425.80 84.80,425.80 84.80,428.20 85.40,428.20 85.40,430.60 86.00,430.60 86.00,433.00 86.75,433.00 86.75,435.25 87.50,435.25 87.50,437.50 88.25,437.50 88.25,439.75 89.00,439.75 89.00,442.00 93.00,442.00 93.00,448.00 93.50,448.00 93.50,450.25 94.00,450.25 94.00,452.50 94.50,452.50 94.50,454.75 95.00,454.75 95.00,457.00 149.00,457.00 149.00,480.00" fill="none" stroke="#ea2129" stroke-width="2.2" stroke-linejoin="miter"/>
<line x1="59.40" y1="305.35" x2="59.40" y2="311.35" stroke="#3c56ab" stroke-width="1.1"/>
<line x1="60.39" y1="308.64" x2="60.39" y2="314.64" stroke="#3c56ab" stroke-width="1.1"/>
<line x1="61.13" y1="311.10" x2="61.13" y2="317.10" stroke="#3c56ab" stroke-width="1.1"/>
<line x1="62.05" y1="314.49" x2="62.05" y2="320.49" stroke="#3c56ab" stroke-width="1.1"/>
<line x1="62.14" y1="315.36" x2="62.14" y2="321.36" stroke="#3c56ab" stroke-width="1.1"/>
<line x1="62.55" y1="319.49" x2="62.55" y2="325.49" stroke="#3c56ab" stroke-width="1.1"/>
<line x1="62.97" y1="323.71" x2="62.97" y2="329.71" stroke="#3c56ab" stroke-width="1.1"/>
<line x1="64.71" y1="325.14" x2="64.71" y2="331.14" stroke="#3c56ab" stroke-width="1.1"/>
<line x1="66.96" y1="327.92" x2="66.96" y2="333.92" stroke="#3c56ab" stroke-width="1.1"/>
<line x1="67.47" y1="328.93" x2="67.47" y2="334.93" stroke="#3c56ab" stroke-width="1.1"/>
<line x1="69.23" y1="332.46" x2="69.23" y2="338.46" stroke="#3c56ab" stroke-width="1.1"/>
<line x1="70.32" y1="334.74" x2="70.32" y2="340.74" stroke="#3c56ab" stroke-width="1.1"/>
<line x1="71.81" y1="338.23" x2="71.81" y2="344.23" stroke="#3c56ab" stroke-width="1.1"/>
<line x1="73.05" y1="341.13" x2="73.05" y2="347.13" stroke="#3c56ab" stroke-width="1.1"/>
<line x1="73.72" y1="342.68" x2="73.72" y2="348.68" stroke="#3c56ab" stroke-width="1.1"/>
<line x1="75.13" y1="345.96" x2="75.13" y2="351.96" stroke="#3c56ab" stroke-width="1.1"/>
<line x1="76.38" y1="348.94" x2="76.38" y2="354.94" stroke="#3c56ab" stroke-width="1.1"/>
<line x1="78.10" y1="353.24" x2="78.10" y2="359.24" stroke="#3c56ab" stroke-width="1.1"/>
<line x1="79.10" y1="355.75" x2="79.10" y2="361.75" stroke="#3c56ab" stroke-width="1.1"/>
<line x1="79.69" y1="357.22" x2="79.69" y2="363.22" stroke="#3c56ab" stroke-width="1.1"/>
<line x1="81.20" y1="361.60" x2="81.20" y2="367.60" stroke="#3c56ab" stroke-width="1.1"/>
<line x1="81.66" y1="362.98" x2="81.66" y2="368.98" stroke="#3c56ab" stroke-width="1.1"/>
<line x1="83.00" y1="367.01" x2="83.00" y2="373.01" stroke="#3c56ab" stroke-width="1.1"/>
<line x1="83.59" y1="368.78" x2="83.59" y2="374.78" stroke="#3c56ab" stroke-width="1.1"/>
<line x1="84.47" y1="371.40" x2="84.47" y2="377.40" stroke="#3c56ab" stroke-width="1.1"/>
<line x1="86.12" y1="376.35" x2="86.12" y2="382.35" stroke="#3c56ab" stroke-width="1.1"/>
<line x1="86.57" y1="377.72" x2="86.57" y2="383.72" stroke="#3c56ab" stroke-width="1.1"/>
<line x1="87.55" y1="380.64" x2="87.55" y2="386.64" stroke="#3c56ab" stroke-width="1.1"/>
<line x1="89.12" y1="385.35" x2="89.12" y2="391.35" stroke="#3c56ab" stroke-width="1.1"/>
<line x1="90.00" y1="388.00" x2="90.00" y2="394.00" stroke="#3c56ab" stroke-width="1.1"/>
<line x1="90.47" y1="389.57" x2="90.47" y2="395.57" stroke="#3c56ab" stroke-width="1.1"/>
<line x1="91.83" y1="394.10" x2="91.83" y2="400.10" stroke="#3c56ab" stroke-width="1.1"/>
<line x1="92.41" y1="396.05" x2="92.41" y2="402.05" stroke="#3c56ab" stroke-width="1.1"/>
<line x1="93.73" y1="399.16" x2="93.73" y2="405.16" stroke="#3c56ab" stroke-width="1.1"/>
<line x1="94.74" y1="400.78" x2="94.74" y2="406.78" stroke="#3c56ab" stroke-width="1.1"/>
<line x1="97.33" y1="404.92" x2="97.33" y2="410.92" stroke="#3c56ab" stroke-width="1.1"/>
<line x1="99.10" y1="406.44" x2="99.10" y2="412.44" stroke="#3c56ab" stroke-width="1.1"/>
<line x1="102.58" y1="407.83" x2="102.58" y2="413.83" stroke="#3c56ab" stroke-width="1.1"/>
<line x1="105.27" y1="408.91" x2="105.27" y2="414.91" stroke="#3c56ab" stroke-width="1.1"/>
<line x1="106.76" y1="409.50" x2="106.76" y2="415.50" stroke="#3c56ab" stroke-width="1.1"/>
<line x1="109.05" y1="411.57" x2="109.05" y2="417.57" stroke="#3c56ab" stroke-width="1.1"/>
<line x1="110.88" y1="413.00" x2="110.88" y2="419.00" stroke="#3c56ab" stroke-width="1.1"/>
<line x1="113.90" y1="413.00" x2="113.90" y2="419.00" stroke="#3c56ab" stroke-width="1.1"/>
<line x1="116.30" y1="413.71" x2="116.30" y2="419.71" stroke="#3c56ab" stroke-width="1.1"/>
<line x1="117.74" y1="417.06" x2="117.74" y2="423.06" stroke="#3c56ab" stroke-width="1.1"/>
<line x1="119.28" y1="420.55" x2="119.28" y2="426.55" stroke="#3c56ab" stroke-width="1.1"/>
<line x1="119.99" y1="421.98" x2="119.99" y2="427.98" stroke="#3c56ab" stroke-width="1.1"/>
<line x1="122.11" y1="426.21" x2="122.11" y2="432.21" stroke="#3c56ab" stroke-width="1.1"/>
<line x1="123.24" y1="428.00" x2="123.24" y2="434.00" stroke="#3c56ab" stroke-width="1.1"/>
<line x1="126.24" y1="428.00" x2="126.24" y2="434.00" stroke="#3c56ab" stroke-width="1.1"/>
<line x1="130.25" y1="428.50" x2="130.25" y2="434.50" stroke="#3c56ab" stroke-width="1.1"/>
<line x1="131.25" y1="430.51" x2="131.25" y2="436.51" stroke="#3c56ab" stroke-width="1.1"/>
<line x1="132.45" y1="432.89" x2="132.45" y2="438.89" stroke="#3c56ab" stroke-width="1.1"/>
<line x1="134.00" y1="436.00" x2="134.00" y2="442.00" stroke="#3c56ab" stroke-width="1.1"/>
<line x1="136.56" y1="438.56" x2="136.56" y2="444.56" stroke="#3c56ab" stroke-width="1.1"/>
<line x1="137.61" y1="439.61" x2="137.61" y2="445.61" stroke="#3c56ab" stroke-width="1.1"/>
<line x1="140.72" y1="443.81" x2="140.72" y2="449.81" stroke="#3c56ab" stroke-width="1.1"/>
<line x1="140.99" y1="444.49" x2="140.99" y2="450.49" stroke="#3c56ab" stroke-width="1.1"/>
<line x1="169.00" y1="455.00" x2="169.00" y2="461.00" stroke="#3c56ab" stroke-width="1.1"/>
<line x1="260.00" y1="455.00" x2="260.00" y2="461.00" stroke="#3c56ab" stroke-width="1.1"/>
<line x1="147.00" y1="447.00" x2="147.00" y2="453.00" stroke="#3c56ab" stroke-width="1.1"/>
<line x1="95.00" y1="439.00" x2="95.00" y2="445.00" stroke="#ea2129" stroke-width="1.1"/>
<line x1="102.00" y1="454.00" x2="102.00" y2="460.00" stroke="#ea2129" stroke-width="1.1"/>
<line x1="108.00" y1="454.00" x2="108.00" y2="460.00" stroke="#ea2129" stroke-width="1.1"/>
<line x1="111.00" y1="454.00" x2="111.00" y2="460.00" stroke="#ea2129" stroke-width="1.1"/>
<line x1="53.20" y1="302.80" x2="53.20" y2="480.90" stroke="#1a1a1a" stroke-width="1.5"/>
<line x1="52.60" y1="480.30" x2="313.00" y2="480.30" stroke="#1a1a1a" stroke-width="1.5"/>
<line x1="45.70" y1="480.30" x2="53.20" y2="480.30" stroke="#1a1a1a" stroke-width="1.3"/>
<text x="41.70" y="484.40" text-anchor="end">0</text>
<line x1="45.70" y1="444.92" x2="53.20" y2="444.92" stroke="#1a1a1a" stroke-width="1.3"/>
<text x="41.70" y="449.02" text-anchor="end">0.2</text>
<line x1="45.70" y1="409.54" x2="53.20" y2="409.54" stroke="#1a1a1a" stroke-width="1.3"/>
<text x="41.70" y="413.64" text-anchor="end">0.4</text>
<line x1="45.70" y1="374.16" x2="53.20" y2="374.16" stroke="#1a1a1a" stroke-width="1.3"/>
<text x="41.70" y="378.26" text-anchor="end">0.6</text>
<line x1="45.70" y1="338.78" x2="53.20" y2="338.78" stroke="#1a1a1a" stroke-width="1.3"/>
<text x="41.70" y="342.88" text-anchor="end">0.8</text>
<line x1="45.70" y1="303.40" x2="53.20" y2="303.40" stroke="#1a1a1a" stroke-width="1.3"/>
<text x="41.70" y="307.50" text-anchor="end">1.0</text>
<line x1="53.20" y1="480.30" x2="53.20" y2="488.30" stroke="#1a1a1a" stroke-width="1.3"/>
<text x="55.20" y="501.80" text-anchor="middle">0</text>
<line x1="90.23" y1="480.30" x2="90.23" y2="488.30" stroke="#1a1a1a" stroke-width="1.3"/>
<text x="91.44" y="501.80" text-anchor="middle">6</text>
<line x1="127.26" y1="480.30" x2="127.26" y2="488.30" stroke="#1a1a1a" stroke-width="1.3"/>
<text x="127.68" y="501.80" text-anchor="middle">12</text>
<line x1="164.29" y1="480.30" x2="164.29" y2="488.30" stroke="#1a1a1a" stroke-width="1.3"/>
<text x="163.92" y="501.80" text-anchor="middle">18</text>
<line x1="201.31" y1="480.30" x2="201.31" y2="488.30" stroke="#1a1a1a" stroke-width="1.3"/>
<text x="200.16" y="501.80" text-anchor="middle">24</text>
<line x1="238.34" y1="480.30" x2="238.34" y2="488.30" stroke="#1a1a1a" stroke-width="1.3"/>
<text x="236.40" y="501.80" text-anchor="middle">30</text>
<line x1="275.37" y1="480.30" x2="275.37" y2="488.30" stroke="#1a1a1a" stroke-width="1.3"/>
<text x="272.64" y="501.80" text-anchor="middle">36</text>
<line x1="312.40" y1="480.30" x2="312.40" y2="488.30" stroke="#1a1a1a" stroke-width="1.3"/>
<text x="308.88" y="501.80" text-anchor="middle">42</text>
<text x="182.80" y="517.00" text-anchor="middle">Time (months)</text>
<text x="39.70" y="525.60">Number at risk:</text>
<text x="55.20" y="540.20" text-anchor="middle">102</text>
<text x="55.20" y="552.60" text-anchor="middle">42</text>
<text x="91.44" y="540.20" text-anchor="middle">37</text>
<text x="91.44" y="552.60" text-anchor="middle">9</text>
<text x="127.68" y="540.20" text-anchor="middle">13</text>
<text x="127.68" y="552.60" text-anchor="middle">1</text>
<text x="163.92" y="540.20" text-anchor="middle">2</text>
<text x="163.92" y="552.60" text-anchor="middle">0</text>
<text x="200.16" y="540.20" text-anchor="middle">0</text>
<text x="200.16" y="552.60" text-anchor="middle">0</text>
<text x="236.40" y="540.20" text-anchor="middle">0</text>
<text x="236.40" y="552.60" text-anchor="middle">0</text>
<text x="272.64" y="540.20" text-anchor="middle">0</text>
<text x="272.64" y="552.60" text-anchor="middle">0</text>
<text x="308.88" y="540.20" text-anchor="middle">0</text>
<text x="308.88" y="552.60" text-anchor="middle">0</text>
<line x1="30.40" y1="536.20" x2="38.10" y2="536.20" stroke="#4f7fc4" stroke-width="2"/>
<line x1="30.40" y1="548.60" x2="38.10" y2="548.60" stroke="#ea2129" stroke-width="2"/>
<text transform="translate(14.50,395.60) rotate(-90)" text-anchor="middle">Probability of PFS</text>
<text x="99.70" y="307.30" font-style="italic">KEAP1</text>
<text x="151.50" y="307.30" font-style="italic">n</text>
<text x="188.30" y="307.30">Median PFS (months)</text>
<text x="99.70" y="321.30">WT</text>
<text x="151.50" y="321.30">102</text>
<text x="188.30" y="321.30">5.7</text>
<text x="99.70" y="335.30">Mutant</text>
<text x="151.50" y="335.30">42</text>
<text x="188.30" y="335.30">2.7</text>
<line x1="87.00" y1="316.50" x2="95.00" y2="316.50" stroke="#4f7fc4" stroke-width="2"/>
<line x1="87.00" y1="330.50" x2="95.00" y2="330.50" stroke="#ea2129" stroke-width="2"/>
<text x="99.70" y="350.30">Log-rank <tspan font-style="italic">P</tspan> &lt; 0.0001</text>
<text x="99.70" y="364.30">MV HR: 2.07 (95% CI: 1.35–3.17)</text>
<polyline points="387.90,308.40 394.60,308.40 395.75,308.40 395.75,311.50 396.90,311.50 396.90,314.60 401.77,314.60 401.77,316.87 406.63,316.87 406.63,319.13 411.50,319.13 411.50,321.40 412.40,321.40 412.40,323.87 413.30,323.87 413.30,326.34 414.20,326.34 414.20,328.81 415.10,328.81 415.10,331.28 416.00,331.28 416.00,333.75 417.80,333.75 417.80,336.00 419.60,336.00 419.60,338.25 421.40,338.25 421.40,340.50 423.20,340.50 423.20,342.75 425.00,342.75 425.00,345.00 428.15,345.00 428.15,347.48 431.30,347.48 431.30,349.96 434.45,349.96 434.45,352.44 437.60,352.44 437.60,354.92 440.75,354.92 440.75,357.40 442.44,357.40 442.44,359.92 444.12,359.92 444.12,362.45 445.81,362.45 445.81,364.98 447.50,364.98 447.50,367.50 449.47,367.50 449.47,369.89 451.44,369.89 451.44,372.27 453.41,372.27 453.41,374.66 455.38,374.66 455.38,377.05 457.34,377.05 457.34,379.44 459.31,379.44 459.31,381.83 461.28,381.83 461.28,384.21 463.25,384.21 463.25,386.60 479.00,386.60 479.00,388.90 483.50,388.90 483.50,391.70 488.00,391.70 488.00,394.50 489.50,394.50 489.50,396.75 491.00,396.75 491.00,399.00 492.50,399.00 492.50,401.25 507.10,401.25 508.60,401.25 508.60,404.03 510.10,404.03 510.10,406.82 511.60,406.82 511.60,409.60 563.40,409.60 563.40,427.80 587.00,427.80 587.00,455.30 643.30,455.30" fill="none" stroke="#3c56ab" stroke-width="2.2" stroke-linejoin="miter"/>
<polyline points="387.90,308.40 390.15,308.40 390.15,310.95 392.40,310.95 392.40,313.50 394.07,313.50 394.07,315.75 395.75,315.75 395.75,318.00 397.43,318.00 397.43,320.25 399.10,320.25 399.10,322.50 399.59,322.50 399.59,324.75 400.07,324.75 400.07,327.00 400.56,327.00 400.56,329.25 401.04,329.25 401.04,331.50 401.53,331.50 401.53,333.75 402.01,333.75 402.01,336.00 402.50,336.00 402.50,338.25 403.18,338.25 403.18,340.50 403.86,340.50 403.86,342.75 404.54,342.75 404.54,345.00 405.22,345.00 405.22,347.25 405.90,347.25 405.90,349.50 414.90,349.50 415.57,349.50 415.57,351.75 416.24,351.75 416.24,354.00 416.91,354.00 416.91,356.25 417.58,356.25 417.58,358.50 418.25,358.50 418.25,360.75 418.92,360.75 418.92,363.00 419.59,363.00 419.59,365.25 420.26,365.25 420.26,367.50 420.93,367.50 420.93,369.75 421.60,369.75 421.60,372.00 428.40,372.00 428.40,374.25 428.40,391.10 430.27,391.10 430.27,393.73 432.13,393.73 432.13,396.37 434.00,396.37 434.00,399.00 436.25,399.00 436.25,401.25 438.50,401.25 438.50,403.50 440.75,403.50 440.75,405.75 442.16,405.75 442.16,408.29 443.57,408.29 443.57,410.82 444.99,410.82 444.99,413.36 446.40,413.36 446.40,415.90 450.32,415.90 450.32,418.15 454.25,418.15 454.25,420.40 461.00,420.40 461.00,422.60 464.37,422.60 464.37,424.87 467.73,424.87 467.73,427.13 471.10,427.13 471.10,429.40 472.51,429.40 472.51,431.65 473.93,431.65 473.93,433.90 475.34,433.90 475.34,436.15 476.75,436.15 476.75,438.40 477.42,438.40 477.42,440.64 478.09,440.64 478.09,442.88 478.76,442.88 478.76,445.12 479.43,445.12 479.43,447.36 480.10,447.36 480.10,449.60 491.40,449.60 491.40,457.50 513.20,457.50 513.20,482.00" fill="none" stroke="#ea2129" stroke-width="2.2" stroke-linejoin="miter"/>
<line x1="396.25" y1="309.85" x2="396.25" y2="315.85" stroke="#3c56ab" stroke-width="1.1"/>
<line x1="399.72" y1="312.91" x2="399.72" y2="318.91" stroke="#3c56ab" stroke-width="1.1"/>
<line x1="402.55" y1="314.23" x2="402.55" y2="320.23" stroke="#3c56ab" stroke-width="1.1"/>
<line x1="405.03" y1="315.39" x2="405.03" y2="321.39" stroke="#3c56ab" stroke-width="1.1"/>
<line x1="409.50" y1="317.47" x2="409.50" y2="323.47" stroke="#3c56ab" stroke-width="1.1"/>
<line x1="411.52" y1="318.45" x2="411.52" y2="324.45" stroke="#3c56ab" stroke-width="1.1"/>
<line x1="413.15" y1="322.94" x2="413.15" y2="328.94" stroke="#3c56ab" stroke-width="1.1"/>
<line x1="414.03" y1="325.35" x2="414.03" y2="331.35" stroke="#3c56ab" stroke-width="1.1"/>
<line x1="415.30" y1="328.82" x2="415.30" y2="334.82" stroke="#3c56ab" stroke-width="1.1"/>
<line x1="417.59" y1="332.73" x2="417.59" y2="338.73" stroke="#3c56ab" stroke-width="1.1"/>
<line x1="420.58" y1="336.47" x2="420.58" y2="342.47" stroke="#3c56ab" stroke-width="1.1"/>
<line x1="421.57" y1="337.71" x2="421.57" y2="343.71" stroke="#3c56ab" stroke-width="1.1"/>
<line x1="424.01" y1="340.77" x2="424.01" y2="346.77" stroke="#3c56ab" stroke-width="1.1"/>
<line x1="427.53" y1="343.99" x2="427.53" y2="349.99" stroke="#3c56ab" stroke-width="1.1"/>
<line x1="431.11" y1="346.81" x2="431.11" y2="352.81" stroke="#3c56ab" stroke-width="1.1"/>
<line x1="433.11" y1="348.39" x2="433.11" y2="354.39" stroke="#3c56ab" stroke-width="1.1"/>
<line x1="435.55" y1="350.31" x2="435.55" y2="356.31" stroke="#3c56ab" stroke-width="1.1"/>
<line x1="439.72" y1="353.59" x2="439.72" y2="359.59" stroke="#3c56ab" stroke-width="1.1"/>
<line x1="440.45" y1="354.16" x2="440.45" y2="360.16" stroke="#3c56ab" stroke-width="1.1"/>
<line x1="443.86" y1="359.05" x2="443.86" y2="365.05" stroke="#3c56ab" stroke-width="1.1"/>
<line x1="444.96" y1="360.70" x2="444.96" y2="366.70" stroke="#3c56ab" stroke-width="1.1"/>
<line x1="446.74" y1="363.36" x2="446.74" y2="369.36" stroke="#3c56ab" stroke-width="1.1"/>
<line x1="448.89" y1="366.18" x2="448.89" y2="372.18" stroke="#3c56ab" stroke-width="1.1"/>
<line x1="451.54" y1="369.41" x2="451.54" y2="375.41" stroke="#3c56ab" stroke-width="1.1"/>
<line x1="454.79" y1="373.34" x2="454.79" y2="379.34" stroke="#3c56ab" stroke-width="1.1"/>
<line x1="455.92" y1="374.71" x2="455.92" y2="380.71" stroke="#3c56ab" stroke-width="1.1"/>
<line x1="458.97" y1="378.41" x2="458.97" y2="384.41" stroke="#3c56ab" stroke-width="1.1"/>
<line x1="461.38" y1="381.33" x2="461.38" y2="387.33" stroke="#3c56ab" stroke-width="1.1"/>
<line x1="463.20" y1="383.53" x2="463.20" y2="389.53" stroke="#3c56ab" stroke-width="1.1"/>
<line x1="467.26" y1="384.19" x2="467.26" y2="390.19" stroke="#3c56ab" stroke-width="1.1"/>
<line x1="469.45" y1="384.51" x2="469.45" y2="390.51" stroke="#3c56ab" stroke-width="1.1"/>
<line x1="473.03" y1="385.03" x2="473.03" y2="391.03" stroke="#3c56ab" stroke-width="1.1"/>
<line x1="477.04" y1="385.61" x2="477.04" y2="391.61" stroke="#3c56ab" stroke-width="1.1"/>
<line x1="481.56" y1="387.49" x2="481.56" y2="393.49" stroke="#3c56ab" stroke-width="1.1"/>
<line x1="484.02" y1="389.02" x2="484.02" y2="395.02" stroke="#3c56ab" stroke-width="1.1"/>
<line x1="486.82" y1="390.76" x2="486.82" y2="396.76" stroke="#3c56ab" stroke-width="1.1"/>
<line x1="489.68" y1="394.01" x2="489.68" y2="400.01" stroke="#3c56ab" stroke-width="1.1"/>
<line x1="491.47" y1="396.71" x2="491.47" y2="402.71" stroke="#3c56ab" stroke-width="1.1"/>
<line x1="493.83" y1="398.25" x2="493.83" y2="404.25" stroke="#3c56ab" stroke-width="1.1"/>
<line x1="498.89" y1="398.25" x2="498.89" y2="404.25" stroke="#3c56ab" stroke-width="1.1"/>
<line x1="502.24" y1="398.25" x2="502.24" y2="404.25" stroke="#3c56ab" stroke-width="1.1"/>
<line x1="504.54" y1="398.25" x2="504.54" y2="404.25" stroke="#3c56ab" stroke-width="1.1"/>
<line x1="520.00" y1="406.60" x2="520.00" y2="412.60" stroke="#3c56ab" stroke-width="1.1"/>
<line x1="525.00" y1="406.60" x2="525.00" y2="412.60" stroke="#3c56ab" stroke-width="1.1"/>
<line x1="530.00" y1="406.60" x2="530.00" y2="412.60" stroke="#3c56ab" stroke-width="1.1"/>
<line x1="535.00" y1="406.60" x2="535.00" y2="412.60" stroke="#3c56ab" stroke-width="1.1"/>
<line x1="540.00" y1="406.60" x2="540.00" y2="412.60" stroke="#3c56ab" stroke-width="1.1"/>
<line x1="545.00" y1="406.60" x2="545.00" y2="412.60" stroke="#3c56ab" stroke-width="1.1"/>
<line x1="555.00" y1="406.60" x2="555.00" y2="412.60" stroke="#3c56ab" stroke-width="1.1"/>
<line x1="571.00" y1="424.80" x2="571.00" y2="430.80" stroke="#3c56ab" stroke-width="1.1"/>
<line x1="643.00" y1="452.30" x2="643.00" y2="458.30" stroke="#3c56ab" stroke-width="1.1"/>
<line x1="401.71" y1="331.61" x2="401.71" y2="337.61" stroke="#ea2129" stroke-width="1.1"/>
<line x1="402.98" y1="336.84" x2="402.98" y2="342.84" stroke="#ea2129" stroke-width="1.1"/>
<line x1="416.24" y1="351.00" x2="416.24" y2="357.00" stroke="#ea2129" stroke-width="1.1"/>
<line x1="418.58" y1="358.87" x2="418.58" y2="364.87" stroke="#ea2129" stroke-width="1.1"/>
<line x1="428.40" y1="371.89" x2="428.40" y2="377.89" stroke="#ea2129" stroke-width="1.1"/>
<line x1="434.10" y1="396.10" x2="434.10" y2="402.10" stroke="#ea2129" stroke-width="1.1"/>
<line x1="438.34" y1="400.34" x2="438.34" y2="406.34" stroke="#ea2129" stroke-width="1.1"/>
<line x1="452.35" y1="416.31" x2="452.35" y2="422.31" stroke="#ea2129" stroke-width="1.1"/>
<line x1="464.82" y1="422.17" x2="464.82" y2="428.17" stroke="#ea2129" stroke-width="1.1"/>
<line x1="475.68" y1="433.69" x2="475.68" y2="439.69" stroke="#ea2129" stroke-width="1.1"/>
<line x1="483.20" y1="446.60" x2="483.20" y2="452.60" stroke="#ea2129" stroke-width="1.1"/>
<line x1="493.00" y1="454.50" x2="493.00" y2="460.50" stroke="#ea2129" stroke-width="1.1"/>
<line x1="387.30" y1="307.80" x2="387.30" y2="483.00" stroke="#1a1a1a" stroke-width="1.5"/>
<line x1="386.70" y1="482.40" x2="643.30" y2="482.40" stroke="#1a1a1a" stroke-width="1.5"/>
<line x1="379.80" y1="482.40" x2="387.30" y2="482.40" stroke="#1a1a1a" stroke-width="1.3"/>
<text x="375.80" y="486.50" text-anchor="end">0</text>
<line x1="379.80" y1="447.60" x2="387.30" y2="447.60" stroke="#1a1a1a" stroke-width="1.3"/>
<text x="375.80" y="451.70" text-anchor="end">0.2</text>
<line x1="379.80" y1="412.80" x2="387.30" y2="412.80" stroke="#1a1a1a" stroke-width="1.3"/>
<text x="375.80" y="416.90" text-anchor="end">0.4</text>
<line x1="379.80" y1="378.00" x2="387.30" y2="378.00" stroke="#1a1a1a" stroke-width="1.3"/>
<text x="375.80" y="382.10" text-anchor="end">0.6</text>
<line x1="379.80" y1="343.20" x2="387.30" y2="343.20" stroke="#1a1a1a" stroke-width="1.3"/>
<text x="375.80" y="347.30" text-anchor="end">0.8</text>
<line x1="379.80" y1="308.40" x2="387.30" y2="308.40" stroke="#1a1a1a" stroke-width="1.3"/>
<text x="375.80" y="312.50" text-anchor="end">1.0</text>
<line x1="387.30" y1="482.40" x2="387.30" y2="490.40" stroke="#1a1a1a" stroke-width="1.3"/>
<text x="387.30" y="503.00" text-anchor="middle">0</text>
<line x1="423.79" y1="482.40" x2="423.79" y2="490.40" stroke="#1a1a1a" stroke-width="1.3"/>
<text x="423.79" y="503.00" text-anchor="middle">6</text>
<line x1="460.27" y1="482.40" x2="460.27" y2="490.40" stroke="#1a1a1a" stroke-width="1.3"/>
<text x="460.27" y="503.00" text-anchor="middle">12</text>
<line x1="496.76" y1="482.40" x2="496.76" y2="490.40" stroke="#1a1a1a" stroke-width="1.3"/>
<text x="496.76" y="503.00" text-anchor="middle">18</text>
<line x1="533.24" y1="482.40" x2="533.24" y2="490.40" stroke="#1a1a1a" stroke-width="1.3"/>
<text x="533.24" y="503.00" text-anchor="middle">24</text>
<line x1="569.73" y1="482.40" x2="569.73" y2="490.40" stroke="#1a1a1a" stroke-width="1.3"/>
<text x="569.73" y="503.00" text-anchor="middle">30</text>
<line x1="606.21" y1="482.40" x2="606.21" y2="490.40" stroke="#1a1a1a" stroke-width="1.3"/>
<text x="606.21" y="503.00" text-anchor="middle">36</text>
<line x1="642.70" y1="482.40" x2="642.70" y2="490.40" stroke="#1a1a1a" stroke-width="1.3"/>
<text x="642.70" y="503.00" text-anchor="middle">42</text>
<text x="515.00" y="518.60" text-anchor="middle">Time (months)</text>
<text x="370.80" y="526.80">Number at risk:</text>
<text x="387.30" y="541.20" text-anchor="middle">103</text>
<text x="387.30" y="553.20" text-anchor="middle">42</text>
<text x="423.79" y="541.20" text-anchor="middle">80</text>
<text x="423.79" y="553.20" text-anchor="middle">26</text>
<text x="460.27" y="541.20" text-anchor="middle">56</text>
<text x="460.27" y="553.20" text-anchor="middle">14</text>
<text x="496.76" y="541.20" text-anchor="middle">22</text>
<text x="496.76" y="553.20" text-anchor="middle">1</text>
<text x="533.24" y="541.20" text-anchor="middle">8</text>
<text x="533.24" y="553.20" text-anchor="middle">0</text>
<text x="569.73" y="541.20" text-anchor="middle">3</text>
<text x="569.73" y="553.20" text-anchor="middle">0</text>
<text x="606.21" y="541.20" text-anchor="middle">1</text>
<text x="606.21" y="553.20" text-anchor="middle">0</text>
<text x="642.70" y="541.20" text-anchor="middle">1</text>
<text x="642.70" y="553.20" text-anchor="middle">0</text>
<line x1="363.00" y1="537.20" x2="371.70" y2="537.20" stroke="#4f7fc4" stroke-width="2"/>
<line x1="363.00" y1="549.20" x2="371.70" y2="549.20" stroke="#ea2129" stroke-width="2"/>
<text transform="translate(348.50,398.00) rotate(-90)" text-anchor="middle">Probability of OS</text>
<text x="452.80" y="307.30" font-style="italic">KEAP1</text>
<text x="504.00" y="307.30" font-style="italic">n</text>
<text x="541.30" y="307.30">Median OS (months)</text>
<text x="452.80" y="321.30">WT</text>
<text x="504.00" y="321.30">103</text>
<text x="541.30" y="321.30">16.6</text>
<text x="452.80" y="335.30">Mutant</text>
<text x="504.00" y="335.30">42</text>
<text x="541.30" y="335.30">7.6</text>
<line x1="440.00" y1="316.50" x2="448.00" y2="316.50" stroke="#4f7fc4" stroke-width="2"/>
<line x1="440.00" y1="330.50" x2="448.00" y2="330.50" stroke="#ea2129" stroke-width="2"/>
<text x="452.80" y="350.30">Log-rank <tspan font-style="italic">P</tspan> &lt; 0.0001</text>
<text x="452.80" y="364.30">MV HR: 2.24 (95% CI: 1.42–3.54)</text>
<rect x="736.50" y="120.49" width="63.10" height="54.11" fill="#008a68" stroke="#111" stroke-width="1.3"/>
<rect x="736.50" y="66.38" width="63.10" height="54.11" fill="#1864b0" stroke="#111" stroke-width="1.3"/>
<rect x="736.50" y="42.30" width="63.10" height="24.08" fill="#872a6f" stroke="#111" stroke-width="1.3"/>
<text x="768.05" y="151.74" text-anchor="middle" fill="#fff">40.9%</text>
<text x="768.05" y="97.63" text-anchor="middle" fill="#fff">40.9%</text>
<text x="768.05" y="58.54" text-anchor="middle" fill="#fff">18.2%</text>
<rect x="812.70" y="130.94" width="63.00" height="43.66" fill="#008a68" stroke="#111" stroke-width="1.3"/>
<rect x="812.70" y="82.65" width="63.00" height="48.29" fill="#1864b0" stroke="#111" stroke-width="1.3"/>
<rect x="812.70" y="42.30" width="63.00" height="40.35" fill="#872a6f" stroke="#111" stroke-width="1.3"/>
<text x="844.20" y="156.97" text-anchor="middle" fill="#fff">33.0%</text>
<text x="844.20" y="111.00" text-anchor="middle" fill="#fff">36.5%</text>
<text x="844.20" y="66.68" text-anchor="middle" fill="#fff">30.5%</text>
<line x1="730.00" y1="41.80" x2="730.00" y2="174.60" stroke="#1a1a1a" stroke-width="1.4"/>
<line x1="726.50" y1="174.60" x2="881.60" y2="174.60" stroke="#1a1a1a" stroke-width="1.4"/>
<line x1="726.50" y1="174.60" x2="730.00" y2="174.60" stroke="#1a1a1a" stroke-width="1.3"/>
<text x="723.50" y="178.70" text-anchor="end">0</text>
<line x1="726.50" y1="148.14" x2="730.00" y2="148.14" stroke="#1a1a1a" stroke-width="1.3"/>
<text x="723.50" y="152.24" text-anchor="end">20</text>
<line x1="726.50" y1="121.68" x2="730.00" y2="121.68" stroke="#1a1a1a" stroke-width="1.3"/>
<text x="723.50" y="125.78" text-anchor="end">40</text>
<line x1="726.50" y1="95.22" x2="730.00" y2="95.22" stroke="#1a1a1a" stroke-width="1.3"/>
<text x="723.50" y="99.32" text-anchor="end">60</text>
<line x1="726.50" y1="68.76" x2="730.00" y2="68.76" stroke="#1a1a1a" stroke-width="1.3"/>
<text x="723.50" y="72.86" text-anchor="end">80</text>
<line x1="726.50" y1="42.30" x2="730.00" y2="42.30" stroke="#1a1a1a" stroke-width="1.3"/>
<text x="723.50" y="46.40" text-anchor="end">100</text>
<text x="806.30" y="31.50" text-anchor="middle">NS</text>
<text x="765.50" y="189.30" text-anchor="middle" font-style="italic">WT</text>
<text x="844.20" y="189.30" text-anchor="middle" font-style="italic">MUT</text>
<rect x="694.50" y="206.50" width="6.50" height="6.50" fill="#872a6f" stroke="#111" stroke-width="1"/>
<text x="705.50" y="213.50">Progressive disease (PD)</text>
<rect x="694.50" y="223.10" width="6.50" height="6.50" fill="#1864b0" stroke="#111" stroke-width="1"/>
<text x="705.50" y="230.10">Stable disease (SD)</text>
<rect x="694.50" y="239.70" width="6.50" height="6.50" fill="#008a68" stroke="#111" stroke-width="1"/>
<text x="705.50" y="246.70">Partial/complete response (PR/CR)</text>
<text transform="translate(694.80,108.70) rotate(-90)" text-anchor="middle"><tspan font-style="italic">STK11</tspan> best overall response (%)</text>
<rect x="735.00" y="408.45" width="63.30" height="56.55" fill="#008a68" stroke="#111" stroke-width="1.3"/>
<rect x="735.00" y="355.85" width="63.30" height="52.60" fill="#1864b0" stroke="#111" stroke-width="1.3"/>
<rect x="735.00" y="333.50" width="63.30" height="22.36" fill="#872a6f" stroke="#111" stroke-width="1.3"/>
<text x="766.65" y="440.93" text-anchor="middle" fill="#fff">43.0%</text>
<text x="766.65" y="386.35" text-anchor="middle" fill="#fff">40.0%</text>
<text x="766.65" y="348.88" text-anchor="middle" fill="#fff">17.0%</text>
<rect x="811.60" y="446.20" width="63.80" height="18.80" fill="#008a68" stroke="#111" stroke-width="1.3"/>
<rect x="811.60" y="392.94" width="63.80" height="53.26" fill="#1864b0" stroke="#111" stroke-width="1.3"/>
<rect x="811.60" y="333.50" width="63.80" height="59.44" fill="#872a6f" stroke="#111" stroke-width="1.3"/>
<text x="843.50" y="459.80" text-anchor="middle" fill="#fff">14.3%</text>
<text x="843.50" y="423.77" text-anchor="middle" fill="#fff">40.5%</text>
<text x="843.50" y="367.42" text-anchor="middle" fill="#fff">45.2%</text>
<line x1="729.00" y1="333.00" x2="729.00" y2="465.00" stroke="#1a1a1a" stroke-width="1.4"/>
<line x1="725.50" y1="465.00" x2="881.50" y2="465.00" stroke="#1a1a1a" stroke-width="1.4"/>
<line x1="725.50" y1="465.00" x2="729.00" y2="465.00" stroke="#1a1a1a" stroke-width="1.3"/>
<text x="722.50" y="469.10" text-anchor="end">0</text>
<line x1="725.50" y1="438.70" x2="729.00" y2="438.70" stroke="#1a1a1a" stroke-width="1.3"/>
<text x="722.50" y="442.80" text-anchor="end">20</text>
<line x1="725.50" y1="412.40" x2="729.00" y2="412.40" stroke="#1a1a1a" stroke-width="1.3"/>
<text x="722.50" y="416.50" text-anchor="end">40</text>
<line x1="725.50" y1="386.10" x2="729.00" y2="386.10" stroke="#1a1a1a" stroke-width="1.3"/>
<text x="722.50" y="390.20" text-anchor="end">60</text>
<line x1="725.50" y1="359.80" x2="729.00" y2="359.80" stroke="#1a1a1a" stroke-width="1.3"/>
<text x="722.50" y="363.90" text-anchor="end">80</text>
<line x1="725.50" y1="333.50" x2="729.00" y2="333.50" stroke="#1a1a1a" stroke-width="1.3"/>
<text x="722.50" y="337.60" text-anchor="end">100</text>
<text x="805.50" y="324.40" text-anchor="middle"><tspan font-style="italic">P</tspan> &lt; 0.0001</text>
<text x="765.00" y="480.00" text-anchor="middle" font-style="italic">WT</text>
<text x="843.50" y="480.00" text-anchor="middle" font-style="italic">MUT</text>
<rect x="695.00" y="496.50" width="6.50" height="6.50" fill="#872a6f" stroke="#111" stroke-width="1"/>
<text x="706.00" y="503.50">Progressive disease (PD)</text>
<rect x="695.00" y="513.10" width="6.50" height="6.50" fill="#1864b0" stroke="#111" stroke-width="1"/>
<text x="706.00" y="520.10">Stable disease (SD)</text>
<rect x="695.00" y="529.70" width="6.50" height="6.50" fill="#008a68" stroke="#111" stroke-width="1"/>
<text x="706.00" y="536.70">Partial/complete response (PR/CR)</text>
<text transform="translate(693.50,399.00) rotate(-90)" text-anchor="middle"><tspan font-style="italic">KEAP1</tspan> best overall response (%)</text>
<path d="M1031.40,156.50 L1031.40,83.50 A73,73 0 1 1 958.41,157.42 Z" fill="#0070c4" stroke="#111" stroke-width="1"/>
<path d="M1031.40,156.50 L958.41,157.42 A73,73 0 0 1 977.56,107.20 Z" fill="#ff0000" stroke="#111" stroke-width="1"/>
<path d="M1031.40,156.50 L977.56,107.20 A73,73 0 0 1 1001.99,89.69 Z" fill="#cc00cc" stroke="#111" stroke-width="1"/>
<path d="M1031.40,156.50 L1001.99,89.69 A73,73 0 0 1 1031.40,83.50 Z" fill="#000000" stroke="#111" stroke-width="1"/>
<text x="1056.25" y="184.50" text-anchor="middle" fill="#fff">74.8%</text>
<text x="984.25" y="147.00" text-anchor="middle" fill="#fff">12.0%</text>
<text x="996.25" y="112.00" text-anchor="middle" fill="#fff">6.6%</text>
<text x="1018.75" y="98.25" text-anchor="middle" fill="#fff">6.6%</text>
<text x="1031.75" y="74.50" text-anchor="middle">All LUAD</text>
<path d="M1031.70,371.40 L1031.70,298.40 A73,73 0 1 1 966.45,404.13 Z" fill="#0070c4" stroke="#111" stroke-width="1"/>
<path d="M1031.70,371.40 L966.45,404.13 A73,73 0 0 1 970.81,331.13 Z" fill="#ff0000" stroke="#111" stroke-width="1"/>
<path d="M1031.70,371.40 L970.81,331.13 A73,73 0 0 1 989.54,311.81 Z" fill="#cc00cc" stroke="#111" stroke-width="1"/>
<path d="M1031.70,371.40 L989.54,311.81 A73,73 0 0 1 1031.70,298.40 Z" fill="#000000" stroke="#111" stroke-width="1"/>
<text x="1058.60" y="395.30" text-anchor="middle" fill="#fff">67.6%</text>
<text x="982.10" y="374.50" text-anchor="middle" fill="#fff">16.7%</text>
<text x="988.50" y="335.10" text-anchor="middle" fill="#fff">5.9%</text>
<text x="1012.60" y="318.50" text-anchor="middle" fill="#fff">9.8%</text>
<text x="1031.50" y="290.00" text-anchor="middle"><tspan font-style="italic">KRAS</tspan><tspan font-size="8.2" dy="-4.2">MUT</tspan></text>
<rect x="1114.00" y="198.50" width="19.20" height="12.50" fill="#0070c4" stroke="#111" stroke-width="1.1"/>
<text x="1140.30" y="206.80"><tspan font-style="italic">STK11</tspan><tspan font-size="8.2" dy="-4.2">WT</tspan></text>
<text x="1140.30" y="222.00"><tspan font-style="italic">KEAP1</tspan><tspan font-size="8.2" dy="-4.2">WT</tspan></text>
<rect x="1114.00" y="238.00" width="19.20" height="12.50" fill="#ff0000" stroke="#111" stroke-width="1.1"/>
<text x="1138.60" y="247.00"><tspan font-style="italic">STK11</tspan><tspan font-size="8.2" dy="-4.2">MUT</tspan></text>
<text x="1138.60" y="262.20"><tspan font-style="italic">KEAP1</tspan><tspan font-size="8.2" dy="-4.2">WT</tspan></text>
<rect x="1114.00" y="278.00" width="19.20" height="12.50" fill="#cc00cc" stroke="#111" stroke-width="1.1"/>
<text x="1138.70" y="285.80"><tspan font-style="italic">STK11</tspan><tspan font-size="8.2" dy="-4.2">WT</tspan></text>
<text x="1138.70" y="301.00"><tspan font-style="italic">KEAP1</tspan><tspan font-size="8.2" dy="-4.2">MUT</tspan></text>
<rect x="1114.00" y="317.70" width="19.20" height="12.50" fill="#000000" stroke="#111" stroke-width="1.1"/>
<text x="1140.00" y="326.00"><tspan font-style="italic">STK11</tspan><tspan font-size="8.2" dy="-4.2">MUT</tspan></text>
<text x="1140.00" y="341.20"><tspan font-style="italic">KEAP1</tspan><tspan font-size="8.2" dy="-4.2">MUT</tspan></text>
<rect x="55.40" y="692.56" width="56.30" height="125.44" fill="#9b9b9b" stroke="#111" stroke-width="1.3"/>
<rect x="55.40" y="638.80" width="56.30" height="53.76" fill="#2d5597" stroke="#111" stroke-width="1.3"/>
<text x="83.55" y="755.30" text-anchor="middle" fill="#fff">70.0%</text>
<text x="83.55" y="670.10" text-anchor="middle" fill="#fff">30.0%</text>
<rect x="122.50" y="708.87" width="56.00" height="109.13" fill="#9b9b9b" stroke="#111" stroke-width="1.3"/>
<rect x="122.50" y="638.80" width="56.00" height="70.07" fill="#2d5597" stroke="#111" stroke-width="1.3"/>
<text x="150.50" y="764.60" text-anchor="middle" fill="#fff">60.9%</text>
<text x="150.50" y="678.60" text-anchor="middle" fill="#fff">39.1%</text>
<rect x="189.00" y="754.56" width="56.00" height="63.44" fill="#9b9b9b" stroke="#111" stroke-width="1.3"/>
<rect x="189.00" y="638.80" width="56.00" height="115.76" fill="#2d5597" stroke="#111" stroke-width="1.3"/>
<text x="217.00" y="790.00" text-anchor="middle" fill="#fff">35.4%</text>
<text x="217.00" y="701.00" text-anchor="middle" fill="#fff">64.6%</text>
<rect x="256.00" y="706.72" width="56.00" height="111.28" fill="#9b9b9b" stroke="#111" stroke-width="1.3"/>
<rect x="256.00" y="638.80" width="56.00" height="67.92" fill="#2d5597" stroke="#111" stroke-width="1.3"/>
<text x="284.00" y="763.20" text-anchor="middle" fill="#fff">62.1%</text>
<text x="284.00" y="677.10" text-anchor="middle" fill="#fff">37.9%</text>
<line x1="51.00" y1="638.30" x2="51.00" y2="818.00" stroke="#1a1a1a" stroke-width="1.4"/>
<line x1="47.00" y1="818.00" x2="316.50" y2="818.00" stroke="#1a1a1a" stroke-width="1.4"/>
<line x1="47.00" y1="818.00" x2="51.00" y2="818.00" stroke="#1a1a1a" stroke-width="1.3"/>
<text x="43.50" y="822.10" text-anchor="end">0</text>
<line x1="47.00" y1="782.16" x2="51.00" y2="782.16" stroke="#1a1a1a" stroke-width="1.3"/>
<text x="43.50" y="786.26" text-anchor="end">20</text>
<line x1="47.00" y1="746.32" x2="51.00" y2="746.32" stroke="#1a1a1a" stroke-width="1.3"/>
<text x="43.50" y="750.42" text-anchor="end">40</text>
<line x1="47.00" y1="710.48" x2="51.00" y2="710.48" stroke="#1a1a1a" stroke-width="1.3"/>
<text x="43.50" y="714.58" text-anchor="end">60</text>
<line x1="47.00" y1="674.64" x2="51.00" y2="674.64" stroke="#1a1a1a" stroke-width="1.3"/>
<text x="43.50" y="678.74" text-anchor="end">80</text>
<line x1="47.00" y1="638.80" x2="51.00" y2="638.80" stroke="#1a1a1a" stroke-width="1.3"/>
<text x="43.50" y="642.90" text-anchor="end">100</text>
<text x="183.75" y="632.70" text-anchor="middle"><tspan font-style="italic">P</tspan> &lt; 0.0001</text>
<text x="83.50" y="833.00" text-anchor="middle"><tspan font-style="italic">STK11</tspan><tspan font-size="8.2" dy="-4.2">WT</tspan></text>
<text x="83.50" y="847.20" text-anchor="middle"><tspan font-style="italic">KEAP1</tspan><tspan font-size="8.2" dy="-4.2">WT</tspan></text>
<text x="83.50" y="861.80" text-anchor="middle"><tspan font-style="italic">n</tspan> = 6,427</text>
<text x="150.50" y="833.00" text-anchor="middle"><tspan font-style="italic">STK11</tspan><tspan font-size="8.2" dy="-4.2">MUT</tspan></text>
<text x="150.50" y="847.20" text-anchor="middle"><tspan font-style="italic">KEAP1</tspan><tspan font-size="8.2" dy="-4.2">WT</tspan></text>
<text x="150.50" y="861.80" text-anchor="middle"><tspan font-style="italic">n</tspan> = 1,027</text>
<text x="217.00" y="833.00" text-anchor="middle"><tspan font-style="italic">STK11</tspan><tspan font-size="8.2" dy="-4.2">WT</tspan></text>
<text x="217.00" y="847.20" text-anchor="middle"><tspan font-style="italic">KEAP1</tspan><tspan font-size="8.2" dy="-4.2">MUT</tspan></text>
<text x="217.00" y="861.80" text-anchor="middle"><tspan font-style="italic">n</tspan> = 571</text>
<text x="284.00" y="833.00" text-anchor="middle"><tspan font-style="italic">STK11</tspan><tspan font-size="8.2" dy="-4.2">MUT</tspan></text>
<text x="284.00" y="847.20" text-anchor="middle"><tspan font-style="italic">KEAP1</tspan><tspan font-size="8.2" dy="-4.2">MUT</tspan></text>
<text x="284.00" y="861.80" text-anchor="middle"><tspan font-style="italic">n</tspan> = 567</text>
<text transform="translate(14.50,728.00) rotate(-90)" text-anchor="middle">Percentage of all tumours</text>
<rect x="3.50" y="873.80" width="11.10" height="11.70" fill="#9b9b9b" stroke="#111" stroke-width="1.1"/>
<text x="19.80" y="883.30" font-size="12.1">TMB &lt; 10 mutations per Mb</text>
<rect x="175.60" y="873.80" width="11.10" height="11.70" fill="#2d5597" stroke="#111" stroke-width="1.1"/>
<text x="193.00" y="883.30" font-size="12.1">TMB ≥ 10 mutations per Mb</text>
<text x="181.40" y="907.30" text-anchor="middle" font-size="11.9">Median TMB (mutations per Mb)</text>
<line x1="51.00" y1="914.00" x2="312.00" y2="914.00" stroke="#1a1a1a" stroke-width="1.4"/>
<line x1="51.00" y1="951.00" x2="312.00" y2="951.00" stroke="#1a1a1a" stroke-width="1.4"/>
<line x1="51.00" y1="973.50" x2="312.00" y2="973.50" stroke="#1a1a1a" stroke-width="1.8"/>
<text x="76.40" y="930.00" text-anchor="middle"><tspan font-style="italic">STK11</tspan><tspan font-size="8.2" dy="-4.2">WT</tspan></text>
<text x="76.40" y="944.40" text-anchor="middle"><tspan font-style="italic">KEAP1</tspan><tspan font-size="8.2" dy="-4.2">WT</tspan></text>
<text x="76.40" y="967.00" text-anchor="middle">5.22</text>
<text x="145.80" y="930.00" text-anchor="middle"><tspan font-style="italic">STK11</tspan><tspan font-size="8.2" dy="-4.2">MUT</tspan></text>
<text x="145.80" y="944.40" text-anchor="middle"><tspan font-style="italic">KEAP1</tspan><tspan font-size="8.2" dy="-4.2">WT</tspan></text>
<text x="145.80" y="967.00" text-anchor="middle">7.83</text>
<text x="213.80" y="930.00" text-anchor="middle"><tspan font-style="italic">STK11</tspan><tspan font-size="8.2" dy="-4.2">WT</tspan></text>
<text x="213.80" y="944.40" text-anchor="middle"><tspan font-style="italic">KEAP1</tspan><tspan font-size="8.2" dy="-4.2">MUT</tspan></text>
<text x="213.80" y="967.00" text-anchor="middle">13.05</text>
<text x="280.80" y="930.00" text-anchor="middle"><tspan font-style="italic">STK11</tspan><tspan font-size="8.2" dy="-4.2">MUT</tspan></text>
<text x="280.80" y="944.40" text-anchor="middle"><tspan font-style="italic">KEAP1</tspan><tspan font-size="8.2" dy="-4.2">MUT</tspan></text>
<text x="280.80" y="967.00" text-anchor="middle">7.83</text>
<rect x="409.60" y="749.69" width="56.40" height="65.91" fill="#9b9b9b" stroke="#111" stroke-width="1.3"/>
<rect x="409.60" y="703.22" width="56.40" height="46.47" fill="#2d5597" stroke="#111" stroke-width="1.3"/>
<rect x="409.60" y="643.50" width="56.40" height="59.72" fill="#7a0000" stroke="#111" stroke-width="1.3"/>
<text x="437.80" y="785.70" text-anchor="middle" fill="#fff">38.3%</text>
<text x="437.80" y="730.20" text-anchor="middle" fill="#fff">27.0%</text>
<text x="437.80" y="676.80" text-anchor="middle" fill="#fff">34.7%</text>
<rect x="477.40" y="707.87" width="57.00" height="107.73" fill="#9b9b9b" stroke="#111" stroke-width="1.3"/>
<rect x="477.40" y="666.39" width="57.00" height="41.48" fill="#2d5597" stroke="#111" stroke-width="1.3"/>
<rect x="477.40" y="643.50" width="57.00" height="22.89" fill="#7a0000" stroke="#111" stroke-width="1.3"/>
<text x="505.90" y="765.30" text-anchor="middle" fill="#fff">62.6%</text>
<text x="505.90" y="691.20" text-anchor="middle" fill="#fff">24.1%</text>
<text x="505.90" y="659.10" text-anchor="middle" fill="#fff">13.3%</text>
<rect x="545.50" y="748.48" width="56.50" height="67.12" fill="#9b9b9b" stroke="#111" stroke-width="1.3"/>
<rect x="545.50" y="702.01" width="56.50" height="46.47" fill="#2d5597" stroke="#111" stroke-width="1.3"/>
<rect x="545.50" y="643.50" width="56.50" height="58.51" fill="#7a0000" stroke="#111" stroke-width="1.3"/>
<text x="573.75" y="784.80" text-anchor="middle" fill="#fff">39.0%</text>
<text x="573.75" y="730.80" text-anchor="middle" fill="#fff">27.0%</text>
<text x="573.75" y="676.80" text-anchor="middle" fill="#fff">34.0%</text>
<rect x="613.00" y="703.56" width="57.00" height="112.04" fill="#9b9b9b" stroke="#111" stroke-width="1.3"/>
<rect x="613.00" y="665.36" width="57.00" height="38.21" fill="#2d5597" stroke="#111" stroke-width="1.3"/>
<rect x="613.00" y="643.50" width="57.00" height="21.86" fill="#7a0000" stroke="#111" stroke-width="1.3"/>
<text x="641.50" y="760.20" text-anchor="middle" fill="#fff">65.1%</text>
<text x="641.50" y="687.30" text-anchor="middle" fill="#fff">22.2%</text>
<text x="641.50" y="658.20" text-anchor="middle" fill="#fff">12.7%</text>
<line x1="404.00" y1="643.00" x2="404.00" y2="815.60" stroke="#1a1a1a" stroke-width="1.4"/>
<line x1="400.00" y1="815.60" x2="674.50" y2="815.60" stroke="#1a1a1a" stroke-width="1.4"/>
<line x1="400.00" y1="815.60" x2="404.00" y2="815.60" stroke="#1a1a1a" stroke-width="1.3"/>
<text x="396.50" y="819.70" text-anchor="end">0</text>
<line x1="400.00" y1="781.18" x2="404.00" y2="781.18" stroke="#1a1a1a" stroke-width="1.3"/>
<text x="396.50" y="785.28" text-anchor="end">20</text>
<line x1="400.00" y1="746.76" x2="404.00" y2="746.76" stroke="#1a1a1a" stroke-width="1.3"/>
<text x="396.50" y="750.86" text-anchor="end">40</text>
<line x1="400.00" y1="712.34" x2="404.00" y2="712.34" stroke="#1a1a1a" stroke-width="1.3"/>
<text x="396.50" y="716.44" text-anchor="end">60</text>
<line x1="400.00" y1="677.92" x2="404.00" y2="677.92" stroke="#1a1a1a" stroke-width="1.3"/>
<text x="396.50" y="682.02" text-anchor="end">80</text>
<line x1="400.00" y1="643.50" x2="404.00" y2="643.50" stroke="#1a1a1a" stroke-width="1.3"/>
<text x="396.50" y="647.60" text-anchor="end">100</text>
<text x="538.60" y="633.00" text-anchor="middle"><tspan font-style="italic">P</tspan> &lt; 0.0001</text>
<text x="436.00" y="833.30" text-anchor="middle"><tspan font-style="italic">STK11</tspan><tspan font-size="8.2" dy="-4.2">WT</tspan></text>
<text x="436.00" y="847.50" text-anchor="middle"><tspan font-style="italic">KEAP1</tspan><tspan font-size="8.2" dy="-4.2">WT</tspan></text>
<text x="436.00" y="861.30" text-anchor="middle"><tspan font-style="italic">n</tspan> = 6,427</text>
<text x="505.30" y="833.30" text-anchor="middle"><tspan font-style="italic">STK11</tspan><tspan font-size="8.2" dy="-4.2">MUT</tspan></text>
<text x="505.30" y="847.50" text-anchor="middle"><tspan font-style="italic">KEAP1</tspan><tspan font-size="8.2" dy="-4.2">WT</tspan></text>
<text x="505.30" y="861.30" text-anchor="middle"><tspan font-style="italic">n</tspan> = 1,027</text>
<text x="573.30" y="833.30" text-anchor="middle"><tspan font-style="italic">STK11</tspan><tspan font-size="8.2" dy="-4.2">WT</tspan></text>
<text x="573.30" y="847.50" text-anchor="middle"><tspan font-style="italic">KEAP1</tspan><tspan font-size="8.2" dy="-4.2">MUT</tspan></text>
<text x="573.30" y="861.30" text-anchor="middle"><tspan font-style="italic">n</tspan> = 571</text>
<text x="641.30" y="833.30" text-anchor="middle"><tspan font-style="italic">STK11</tspan><tspan font-size="8.2" dy="-4.2">MUT</tspan></text>
<text x="641.30" y="847.50" text-anchor="middle"><tspan font-style="italic">KEAP1</tspan><tspan font-size="8.2" dy="-4.2">MUT</tspan></text>
<text x="641.30" y="861.30" text-anchor="middle"><tspan font-style="italic">n</tspan> = 567</text>
<text transform="translate(369.00,729.00) rotate(-90)" text-anchor="middle">Percentage of all tumours</text>
<rect x="484.00" y="874.00" width="9.90" height="10.30" fill="#9b9b9b" stroke="#111" stroke-width="1.1"/>
<text x="498.10" y="882.70">PD-L1 TPS &lt; 1%</text>
<rect x="484.00" y="893.20" width="9.90" height="10.30" fill="#2d5597" stroke="#111" stroke-width="1.1"/>
<text x="498.10" y="901.90">PD-L1 TPS 1–49%</text>
<rect x="484.00" y="912.10" width="9.90" height="10.30" fill="#7a0000" stroke="#111" stroke-width="1.1"/>
<text x="498.10" y="920.80">PD-L1 TPS ≥ 50%</text>
<line x1="756.30" y1="633.50" x2="756.30" y2="877.10" stroke="#1a1a1a" stroke-width="1.4"/>
<line x1="756.30" y1="876.50" x2="1197.00" y2="876.50" stroke="#1a1a1a" stroke-width="1.4"/>
<line x1="754.50" y1="865.20" x2="756.30" y2="865.20" stroke="#1a1a1a" stroke-width="1.2"/>
<text x="750.50" y="869.30" text-anchor="end">0</text>
<line x1="754.50" y1="813.20" x2="756.30" y2="813.20" stroke="#1a1a1a" stroke-width="1.2"/>
<text x="750.50" y="817.30" text-anchor="end">20</text>
<line x1="754.50" y1="761.20" x2="756.30" y2="761.20" stroke="#1a1a1a" stroke-width="1.2"/>
<text x="750.50" y="765.30" text-anchor="end">40</text>
<line x1="754.50" y1="709.20" x2="756.30" y2="709.20" stroke="#1a1a1a" stroke-width="1.2"/>
<text x="750.50" y="713.30" text-anchor="end">60</text>
<line x1="754.50" y1="657.20" x2="756.30" y2="657.20" stroke="#1a1a1a" stroke-width="1.2"/>
<text x="750.50" y="661.30" text-anchor="end">80</text>
<line x1="776.60" y1="876.50" x2="776.60" y2="878.30" stroke="#1a1a1a" stroke-width="1.2"/>
<text x="776.60" y="889.50" text-anchor="middle">−4</text>
<line x1="876.60" y1="876.50" x2="876.60" y2="878.30" stroke="#1a1a1a" stroke-width="1.2"/>
<text x="876.60" y="889.50" text-anchor="middle">−2</text>
<line x1="976.60" y1="876.50" x2="976.60" y2="878.30" stroke="#1a1a1a" stroke-width="1.2"/>
<text x="976.60" y="889.50" text-anchor="middle">0</text>
<line x1="1076.60" y1="876.50" x2="1076.60" y2="878.30" stroke="#1a1a1a" stroke-width="1.2"/>
<text x="1076.60" y="889.50" text-anchor="middle">2</text>
<line x1="1176.60" y1="876.50" x2="1176.60" y2="878.30" stroke="#1a1a1a" stroke-width="1.2"/>
<text x="1176.60" y="889.50" text-anchor="middle">4</text>
<text x="938.30" y="910.60">log<tspan font-size="8.2" dy="3">2</tspan><tspan dy="-3"> odds ratio</tspan></text>
<text transform="translate(727,751.7) rotate(-90)" text-anchor="middle">–log<tspan font-size="8.2" dy="3">10</tspan><tspan dy="-3">(<tspan font-style="italic">P</tspan>)</tspan></text>
<circle cx="1027.40" cy="635.80" r="4.70" fill="#8a99a8" stroke="#333" stroke-width="0.6"/>
<circle cx="1027.40" cy="656.40" r="4.70" fill="#fa5500" stroke="#333" stroke-width="0.6"/>
<text x="1038.20" y="639.80">PD-L1-negative (<tspan font-style="italic">n</tspan> = 1,866)</text>
<text x="1038.20" y="660.40">PD-L1-positive (<tspan font-style="italic">n</tspan> = 2,806)</text>
<rect x="866.90" y="863.30" width="1.4" height="1.4" fill="#111"/>
<rect x="896.10" y="863.20" width="1.4" height="2.2" fill="#111"/>
<rect x="909.25" y="863.25" width="1.5" height="1.5" fill="#111"/>
<rect x="913.95" y="861.55" width="1.3" height="1.3" fill="#111"/>
<rect x="917.05" y="862.70" width="1.3" height="1.6" fill="#111"/>
<rect x="921.40" y="863.40" width="1.2" height="1.8" fill="#111"/>
<rect x="925.35" y="864.05" width="1.3" height="1.3" fill="#111"/>
<rect x="933.35" y="862.65" width="1.3" height="1.3" fill="#111"/>
<rect x="939.35" y="863.35" width="1.3" height="1.3" fill="#111"/>
<rect x="946.65" y="863.70" width="1.3" height="2" fill="#111"/>
<rect x="1012.65" y="863.65" width="1.3" height="1.3" fill="#111"/>
<rect x="1015.35" y="863.35" width="1.3" height="1.3" fill="#111"/>
<rect x="1018.35" y="863.35" width="1.3" height="1.3" fill="#111"/>
<rect x="1025.75" y="863.20" width="1.1" height="2.2" fill="#111"/>
<rect x="1033.35" y="863.35" width="1.3" height="1.3" fill="#111"/>
<rect x="1041.05" y="862.85" width="1.3" height="1.3" fill="#111"/>
<rect x="1046.35" y="863.65" width="1.3" height="1.3" fill="#111"/>
<rect x="1055.35" y="863.35" width="1.3" height="1.3" fill="#111"/>
<rect x="1062.65" y="863.85" width="1.3" height="1.3" fill="#111"/>
<rect x="1070.05" y="862.05" width="1.3" height="1.3" fill="#111"/>
<rect x="1076.05" y="863.35" width="1.3" height="1.3" fill="#111"/>
<rect x="1086.65" y="862.65" width="1.3" height="1.3" fill="#111"/>
<rect x="1096.65" y="862.05" width="1.3" height="1.3" fill="#111"/>
<polyline points="940.0,862.6 941.0,862.7 942.0,862.7 943.0,862.7 944.0,862.7 945.0,862.7 946.0,862.8 947.0,862.8 948.0,862.9 949.0,862.9 950.0,863.0 951.0,863.0 952.0,863.1 953.0,863.2 954.0,863.3 955.0,863.4 956.0,863.5 957.0,863.6 958.0,863.7 959.0,863.8 960.0,864.0 961.0,864.1 962.0,864.2 963.0,864.4 964.0,864.5 965.0,864.6 966.0,864.8 967.0,864.9 968.0,865.0 969.0,865.1 970.0,865.2 971.0,865.2 972.0,865.3 973.0,865.3 974.0,865.3 975.0,865.3 976.0,865.3 977.0,865.2 978.0,865.2 979.0,865.1 980.0,865.0 981.0,864.9 982.0,864.8 983.0,864.6 984.0,864.5 985.0,864.4 986.0,864.2 987.0,864.1 988.0,864.0 989.0,863.8 990.0,863.7 991.0,863.6 992.0,863.5 993.0,863.4 994.0,863.3 995.0,863.2 996.0,863.1 997.0,863.0 998.0,863.0 999.0,862.9 1000.0,862.9 1001.0,862.8 1002.0,862.8 1003.0,862.7 1004.0,862.7 1005.0,862.7 1006.0,862.7 1007.0,862.7 1008.0,862.6 1009.0,862.6 1010.0,862.6" fill="none" stroke="#111" stroke-width="2"/>
<circle cx="806.30" cy="860.20" r="1.30" fill="#8a99a8" stroke="#333" stroke-width="0.6"/>
<circle cx="874.40" cy="851.50" r="2.30" fill="#8a99a8" stroke="#333" stroke-width="0.6"/>
<circle cx="881.80" cy="857.10" r="1.80" fill="#8a99a8" stroke="#333" stroke-width="0.6"/>
<circle cx="880.40" cy="861.30" r="1.30" fill="#8a99a8" stroke="#333" stroke-width="0.6"/>
<circle cx="905.00" cy="861.00" r="1.80" fill="#8a99a8" stroke="#333" stroke-width="0.6"/>
<circle cx="915.70" cy="855.00" r="2.60" fill="#8a99a8" stroke="#333" stroke-width="0.6"/>
<circle cx="920.00" cy="852.70" r="2.70" fill="#8a99a8" stroke="#333" stroke-width="0.6"/>
<circle cx="922.30" cy="858.30" r="2.00" fill="#8a99a8" stroke="#333" stroke-width="0.6"/>
<circle cx="923.30" cy="861.00" r="1.60" fill="#8a99a8" stroke="#333" stroke-width="0.6"/>
<circle cx="925.30" cy="860.70" r="1.30" fill="#8a99a8" stroke="#333" stroke-width="0.6"/>
<circle cx="931.30" cy="850.30" r="3.30" fill="#8a99a8" stroke="#333" stroke-width="0.6"/>
<circle cx="931.70" cy="854.70" r="3.20" fill="#8a99a8" stroke="#333" stroke-width="0.6"/>
<circle cx="932.30" cy="858.00" r="2.50" fill="#8a99a8" stroke="#333" stroke-width="0.6"/>
<circle cx="930.00" cy="861.70" r="1.70" fill="#8a99a8" stroke="#333" stroke-width="0.6"/>
<circle cx="937.00" cy="860.00" r="2.50" fill="#8a99a8" stroke="#333" stroke-width="0.6"/>
<circle cx="941.00" cy="862.00" r="1.60" fill="#8a99a8" stroke="#333" stroke-width="0.6"/>
<circle cx="944.00" cy="857.30" r="3.00" fill="#8a99a8" stroke="#333" stroke-width="0.6"/>
<circle cx="945.70" cy="861.00" r="2.00" fill="#8a99a8" stroke="#333" stroke-width="0.6"/>
<circle cx="951.30" cy="857.00" r="3.70" fill="#8a99a8" stroke="#333" stroke-width="0.6"/>
<circle cx="951.00" cy="860.00" r="2.60" fill="#8a99a8" stroke="#333" stroke-width="0.6"/>
<circle cx="961.30" cy="861.30" r="4.20" fill="#8a99a8" stroke="#333" stroke-width="0.6"/>
<circle cx="964.70" cy="860.70" r="4.00" fill="#8a99a8" stroke="#333" stroke-width="0.6"/>
<circle cx="991.00" cy="861.00" r="3.50" fill="#fa5500" stroke="#222" stroke-width="0.7"/>
<circle cx="995.30" cy="859.00" r="3.50" fill="#fa5500" stroke="#222" stroke-width="0.7"/>
<circle cx="998.00" cy="859.30" r="3.60" fill="#fa5500" stroke="#222" stroke-width="0.7"/>
<circle cx="1001.30" cy="857.30" r="3.50" fill="#fa5500" stroke="#222" stroke-width="0.7"/>
<circle cx="1003.00" cy="858.70" r="3.30" fill="#fa5500" stroke="#222" stroke-width="0.7"/>
<circle cx="1004.70" cy="862.00" r="2.50" fill="#fa5500" stroke="#222" stroke-width="0.7"/>
<circle cx="1007.70" cy="861.70" r="2.50" fill="#fa5500" stroke="#222" stroke-width="0.7"/>
<circle cx="1023.30" cy="856.00" r="2.80" fill="#fa5500" stroke="#222" stroke-width="0.7"/>
<circle cx="1027.00" cy="860.30" r="1.90" fill="#fa5500" stroke="#222" stroke-width="0.7"/>
<circle cx="1031.70" cy="860.00" r="1.90" fill="#fa5500" stroke="#222" stroke-width="0.7"/>
<circle cx="1033.70" cy="850.30" r="3.00" fill="#fa5500" stroke="#222" stroke-width="0.7"/>
<circle cx="1043.30" cy="845.50" r="3.00" fill="#fa5500" stroke="#222" stroke-width="0.7"/>
<circle cx="1044.70" cy="856.60" r="2.20" fill="#fa5500" stroke="#222" stroke-width="0.7"/>
<circle cx="1051.00" cy="861.70" r="1.50" fill="#fa5500" stroke="#222" stroke-width="0.7"/>
<circle cx="1054.30" cy="861.30" r="1.50" fill="#fa5500" stroke="#222" stroke-width="0.7"/>
<circle cx="1057.30" cy="860.70" r="1.60" fill="#fa5500" stroke="#222" stroke-width="0.7"/>
<circle cx="1091.30" cy="859.00" r="1.80" fill="#fa5500" stroke="#222" stroke-width="0.7"/>
<circle cx="1106.00" cy="856.70" r="1.80" fill="#fa5500" stroke="#222" stroke-width="0.7"/>
<circle cx="1120.30" cy="861.50" r="1.50" fill="#fa5500" stroke="#222" stroke-width="0.7"/>
<circle cx="1126.70" cy="861.00" r="1.50" fill="#fa5500" stroke="#222" stroke-width="0.7"/>
<circle cx="1137.90" cy="859.70" r="1.60" fill="#fa5500" stroke="#222" stroke-width="0.7"/>
<rect x="986.00" y="863.10" width="6" height="1.8" fill="#111"/>
<rect x="994.00" y="863.50" width="4" height="1.6" fill="#111"/>
<rect x="999.50" y="863.00" width="5" height="1.6" fill="#111"/>
<rect x="1005.00" y="862.70" width="4" height="1.6" fill="#111"/>
<circle cx="885.60" cy="645.70" r="8.00" fill="#8a99a8" stroke="#333" stroke-width="0.7"/>
<line x1="885.60" y1="646.50" x2="894.00" y2="658.50" stroke="#1a1a1a" stroke-width="1"/>
<text x="891.80" y="668.90" font-style="italic">STK11</text>
<circle cx="902.20" cy="748.00" r="6.70" fill="#8a99a8" stroke="#333" stroke-width="0.7"/>
<line x1="902.20" y1="748.00" x2="913.40" y2="739.30" stroke="#1a1a1a" stroke-width="1"/>
<text x="914.50" y="721.30"><tspan font-style="italic">STK11</tspan><tspan font-size="8.2" dy="-4.2">MUT</tspan></text>
<text x="916.00" y="734.30"><tspan font-style="italic">KEAP1</tspan><tspan font-size="8.2" dy="-4.2">WT</tspan></text>
<circle cx="904.70" cy="800.50" r="4.20" fill="#8a99a8" stroke="#333" stroke-width="0.7"/>
<line x1="897.10" y1="792.50" x2="904.70" y2="800.50" stroke="#1a1a1a" stroke-width="1"/>
<text x="862.40" y="775.20"><tspan font-style="italic">STK11</tspan><tspan font-size="8.2" dy="-4.2">MUT</tspan></text>
<text x="861.30" y="788.80"><tspan font-style="italic">KEAP1</tspan><tspan font-size="8.2" dy="-4.2">MUT</tspan></text>
<circle cx="919.40" cy="825.40" r="4.40" fill="#8a99a8" stroke="#333" stroke-width="0.7"/>
<line x1="912.70" y1="817.40" x2="919.40" y2="825.40" stroke="#1a1a1a" stroke-width="1"/>
<text x="853.80" y="819.00" font-style="italic">SMARCA4</text>
<circle cx="884.70" cy="830.00" r="3.30" fill="#8a99a8" stroke="#333" stroke-width="0.7"/>
<line x1="868.30" y1="830.50" x2="884.70" y2="830.50" stroke="#1a1a1a" stroke-width="1"/>
<text x="821.30" y="833.20" font-style="italic">ZNF217</text>
<circle cx="943.75" cy="841.70" r="6.00" fill="#8a99a8" stroke="#333" stroke-width="0.7"/>
<line x1="947.60" y1="821.80" x2="943.75" y2="841.70" stroke="#1a1a1a" stroke-width="1"/>
<text x="931.80" y="818.10" font-style="italic">KEAP1</text>
<circle cx="1016.20" cy="815.20" r="8.10" fill="#fa5500" stroke="#333" stroke-width="0.7"/>
<line x1="1016.20" y1="815.20" x2="1028.80" y2="804.00" stroke="#1a1a1a" stroke-width="1"/>
<text x="1033.20" y="803.30" font-style="italic">KRAS</text>
<circle cx="1011.30" cy="841.10" r="10.20" fill="#fa5500" stroke="#333" stroke-width="0.7"/>
<line x1="1011.30" y1="841.10" x2="1031.00" y2="829.00" stroke="#1a1a1a" stroke-width="1"/>
<text x="1030.00" y="827.60" font-style="italic">TP53</text>
<circle cx="1011.30" cy="854.40" r="3.60" fill="#fa5500" stroke="#333" stroke-width="0.7"/>
<line x1="988.10" y1="804.40" x2="1011.30" y2="854.40" stroke="#1a1a1a" stroke-width="1"/>
<text x="961.70" y="785.60"><tspan font-style="italic">KEAP1</tspan><tspan font-size="8.2" dy="-4.2">MUT</tspan></text>
<text x="965.00" y="799.70"><tspan font-style="italic">STK11</tspan><tspan font-size="8.2" dy="-4.2">WT</tspan></text>
<circle cx="1071.50" cy="821.75" r="3.70" fill="#fa5500" stroke="#333" stroke-width="0.7"/>
<line x1="1071.50" y1="821.75" x2="1084.10" y2="812.70" stroke="#1a1a1a" stroke-width="1"/>
<text x="1087.30" y="812.70" font-style="italic">MET</text>
<circle cx="1059.20" cy="833.70" r="3.20" fill="#fa5500" stroke="#333" stroke-width="0.7"/>
<line x1="1059.20" y1="833.70" x2="1068.30" y2="835.80" stroke="#1a1a1a" stroke-width="1"/>
<text x="1070.00" y="841.90" font-style="italic">U2AF1</text>
<circle cx="1156.25" cy="850.60" r="2.10" fill="#fa5500" stroke="#333" stroke-width="0.7"/>
<line x1="1156.25" y1="850.60" x2="1163.20" y2="841.25" stroke="#1a1a1a" stroke-width="1"/>
<text x="1154.50" y="836.90" font-style="italic">CD274</text>
<circle cx="1137.90" cy="854.90" r="1.70" fill="#fa5500" stroke="#222" stroke-width="0.7"/>
<line x1="1138.30" y1="855.00" x2="1143.50" y2="859.50" stroke="#1a1a1a" stroke-width="1"/>
<text x="1138.90" y="870.50" font-style="italic">PDCD1LG2</text>
<text x="1105.50" y="911.00">Prevalence (%)</text>
<text x="1100.30" y="925.00" text-anchor="middle">20</text>
<circle cx="1100.30" cy="941.50" r="8.25" fill="none" stroke="#1a1a1a" stroke-width="1.3"/>
<text x="1122.00" y="925.00" text-anchor="middle">40</text>
<circle cx="1122.00" cy="941.50" r="9.80" fill="none" stroke="#1a1a1a" stroke-width="1.3"/>
<text x="1149.50" y="925.00" text-anchor="middle">60</text>
<circle cx="1149.50" cy="941.50" r="12.00" fill="none" stroke="#1a1a1a" stroke-width="1.3"/>
<text x="1182.20" y="925.00" text-anchor="middle">80</text>
<circle cx="1182.20" cy="941.50" r="13.75" fill="none" stroke="#1a1a1a" stroke-width="1.3"/>
</svg></body></html>
